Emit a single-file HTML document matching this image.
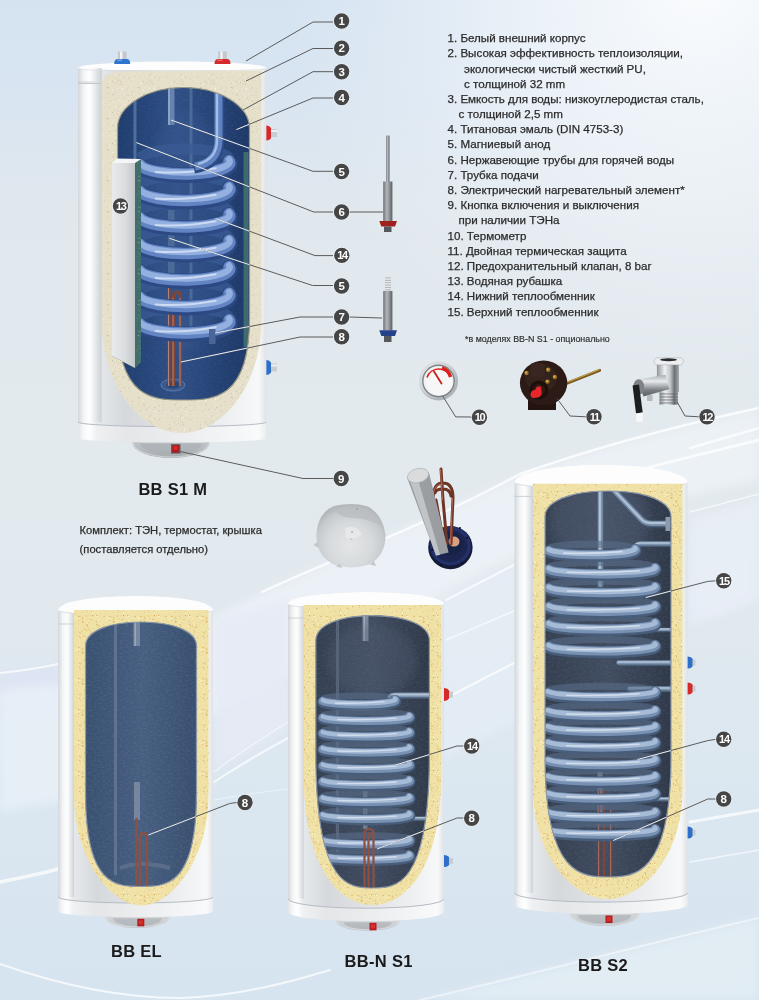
<!DOCTYPE html>
<html><head><meta charset="utf-8"><style>
html,body{margin:0;padding:0;}
body{width:759px;height:1000px;position:relative;overflow:hidden;background:#dbe6f1;font-family:"Liberation Sans", sans-serif;}
.li{position:absolute;font-size:11.6px;line-height:15px;color:#2b2b2b;white-space:nowrap;-webkit-text-stroke:0.25px #2b2b2b;}
.fn{position:absolute;font-size:8.9px;line-height:10px;color:#2b2b2b;white-space:nowrap;-webkit-text-stroke:0.15px #2b2b2b;}
.kt{position:absolute;font-size:11.2px;line-height:14px;color:#2b2b2b;white-space:nowrap;-webkit-text-stroke:0.25px #2b2b2b;}
.lbl{position:absolute;font-size:16.5px;line-height:18px;font-weight:bold;color:#1a1a1a;white-space:nowrap;letter-spacing:0.3px;}
</style></head><body>
<svg width="759" height="1000" viewBox="0 0 759 1000" style="position:absolute;left:0;top:0"><defs>
<linearGradient id="bg" x1="0" y1="0" x2="0" y2="1">
 <stop offset="0" stop-color="#d5e3f1"/>
 <stop offset="0.1" stop-color="#d9e5f1"/>
 <stop offset="0.2" stop-color="#e0e8ee"/>
 <stop offset="0.45" stop-color="#e3eaee"/>
 <stop offset="0.6" stop-color="#e1e9ef"/>
 <stop offset="0.8" stop-color="#dbe7f0"/>
 <stop offset="1" stop-color="#d6e4f0"/>
</linearGradient>
<radialGradient id="tr" gradientUnits="userSpaceOnUse" cx="700" cy="-20" r="420">
 <stop offset="0" stop-color="#ffffff" stop-opacity="0.9"/>
 <stop offset="0.45" stop-color="#f6f9fc" stop-opacity="0.6"/>
 <stop offset="1" stop-color="#eef3f8" stop-opacity="0"/>
</radialGradient>
<linearGradient id="body" x1="0" y1="0" x2="1" y2="0">
 <stop offset="0" stop-color="#d3d7db"/>
 <stop offset="0.03" stop-color="#f2f4f5"/>
 <stop offset="0.06" stop-color="#ffffff"/>
 <stop offset="0.1" stop-color="#e6e9eb"/>
 <stop offset="0.25" stop-color="#d6d9dc"/>
 <stop offset="0.55" stop-color="#e2e4e7"/>
 <stop offset="0.85" stop-color="#f1f2f4"/>
 <stop offset="0.96" stop-color="#f7f8f9"/>
 <stop offset="1" stop-color="#dfe2e5"/>
</linearGradient>
<linearGradient id="blue1" x1="0" y1="0" x2="1" y2="0">
 <stop offset="0" stop-color="#1d3a6b"/>
 <stop offset="0.45" stop-color="#2f4f85"/>
 <stop offset="1" stop-color="#1a3463"/>
</linearGradient>
<linearGradient id="slate" x1="0" y1="0" x2="1" y2="0">
 <stop offset="0" stop-color="#384f6f"/>
 <stop offset="0.5" stop-color="#465e80"/>
 <stop offset="1" stop-color="#364c6c"/>
</linearGradient>
<linearGradient id="dark" x1="0" y1="0" x2="1" y2="0">
 <stop offset="0" stop-color="#333e4f"/>
 <stop offset="0.5" stop-color="#404c60"/>
 <stop offset="1" stop-color="#2d3747"/>
</linearGradient>
<linearGradient id="coil1" x1="0" y1="0" x2="0" y2="1">
 <stop offset="0" stop-color="#5f7fb3"/>
 <stop offset="0.45" stop-color="#b9cbe6"/>
 <stop offset="1" stop-color="#4a6699"/>
</linearGradient>
<linearGradient id="coil2" x1="0" y1="0" x2="0" y2="1">
 <stop offset="0" stop-color="#5c6f88"/>
 <stop offset="0.45" stop-color="#a8b9cf"/>
 <stop offset="1" stop-color="#4d5f78"/>
</linearGradient>
<linearGradient id="rod" x1="0" y1="0" x2="1" y2="0">
 <stop offset="0" stop-color="#6d7278"/>
 <stop offset="0.4" stop-color="#b4b8bc"/>
 <stop offset="1" stop-color="#5d6166"/>
</linearGradient>
<linearGradient id="cap2" x1="0" y1="0" x2="0" y2="1">
 <stop offset="0" stop-color="#dcdfe2"/>
 <stop offset="0.6" stop-color="#ced2d5"/>
 <stop offset="1" stop-color="#b9bec2"/>
</linearGradient>
<linearGradient id="cap" x1="0" y1="0" x2="0" y2="1">
 <stop offset="0" stop-color="#c6cacd"/>
 <stop offset="0.6" stop-color="#b9bdc1"/>
 <stop offset="1" stop-color="#a4a9ae"/>
</linearGradient>
<pattern id="speck" width="31" height="31" patternUnits="userSpaceOnUse"><circle cx="10.0" cy="4.7" r="0.53" fill="#d6a85c"/><circle cx="2.2" cy="16.6" r="0.43" fill="#d6a85c"/><circle cx="1.8" cy="15.7" r="0.31" fill="#d6a85c"/><circle cx="13.4" cy="2.2" r="0.33" fill="#d6a85c"/><circle cx="13.2" cy="25.6" r="0.34" fill="#d6a85c"/><circle cx="6.9" cy="19.5" r="0.63" fill="#d6a85c"/><circle cx="17.9" cy="12.3" r="0.64" fill="#d6a85c"/><circle cx="1.4" cy="26.6" r="0.40" fill="#d6a85c"/><circle cx="4.5" cy="3.7" r="0.41" fill="#d6a85c"/><circle cx="25.3" cy="5.6" r="0.50" fill="#d6a85c"/><circle cx="19.8" cy="11.5" r="0.49" fill="#d6a85c"/><circle cx="1.9" cy="1.8" r="0.37" fill="#d6a85c"/><circle cx="21.1" cy="13.3" r="0.41" fill="#d6a85c"/><circle cx="18.2" cy="14.0" r="0.40" fill="#d6a85c"/><circle cx="24.6" cy="21.7" r="0.39" fill="#d6a85c"/><circle cx="17.8" cy="16.3" r="0.61" fill="#d6a85c"/><circle cx="22.6" cy="8.9" r="0.64" fill="#d6a85c"/><circle cx="3.7" cy="13.0" r="0.56" fill="#d6a85c"/><circle cx="4.7" cy="15.2" r="0.31" fill="#d6a85c"/><circle cx="20.7" cy="23.7" r="0.50" fill="#d6a85c"/><circle cx="27.1" cy="9.7" r="0.54" fill="#d6a85c"/><circle cx="18.4" cy="18.0" r="0.46" fill="#d6a85c"/><circle cx="26.0" cy="29.3" r="0.47" fill="#d6a85c"/><circle cx="20.6" cy="1.9" r="0.55" fill="#d6a85c"/><circle cx="20.1" cy="30.8" r="0.59" fill="#d6a85c"/><circle cx="8.8" cy="12.0" r="0.53" fill="#d6a85c"/><circle cx="0.7" cy="14.3" r="0.36" fill="#d6a85c"/><circle cx="3.6" cy="1.8" r="0.57" fill="#d6a85c"/><circle cx="4.0" cy="7.7" r="0.44" fill="#d6a85c"/><circle cx="27.0" cy="2.5" r="0.46" fill="#d6a85c"/><circle cx="17.0" cy="27.4" r="0.59" fill="#d6a85c"/><circle cx="26.8" cy="8.6" r="0.45" fill="#d6a85c"/><circle cx="11.1" cy="27.4" r="0.64" fill="#d6a85c"/><circle cx="4.7" cy="5.5" r="0.38" fill="#d6a85c"/><circle cx="7.2" cy="15.0" r="0.51" fill="#d6a85c"/><circle cx="8.1" cy="0.1" r="0.45" fill="#d6a85c"/><circle cx="11.4" cy="17.6" r="0.63" fill="#d6a85c"/><circle cx="21.4" cy="16.0" r="0.52" fill="#d6a85c"/><circle cx="21.0" cy="1.7" r="0.61" fill="#d6a85c"/><circle cx="24.2" cy="27.1" r="0.58" fill="#d6a85c"/><circle cx="12.2" cy="12.4" r="0.34" fill="#d6a85c"/><circle cx="19.7" cy="1.9" r="0.32" fill="#d6a85c"/><circle cx="6.5" cy="5.0" r="0.42" fill="#d6a85c"/><circle cx="1.6" cy="0.0" r="0.35" fill="#d6a85c"/><circle cx="3.1" cy="11.3" r="0.31" fill="#d6a85c"/><circle cx="27.1" cy="19.0" r="0.35" fill="#d6a85c"/><circle cx="7.8" cy="10.8" r="0.43" fill="#d6a85c"/><circle cx="3.8" cy="26.3" r="0.65" fill="#d6a85c"/><circle cx="14.4" cy="15.0" r="0.33" fill="#d6a85c"/><circle cx="3.2" cy="10.6" r="0.39" fill="#d6a85c"/><circle cx="25.7" cy="5.0" r="0.31" fill="#d6a85c"/><circle cx="29.5" cy="16.4" r="0.35" fill="#d6a85c"/><circle cx="16.8" cy="0.8" r="0.48" fill="#d6a85c"/><circle cx="30.3" cy="26.8" r="0.54" fill="#d6a85c"/><circle cx="8.1" cy="11.4" r="0.36" fill="#d6a85c"/><circle cx="23.9" cy="16.5" r="0.57" fill="#d6a85c"/><circle cx="10.2" cy="6.9" r="0.58" fill="#d6a85c"/><circle cx="30.5" cy="26.4" r="0.58" fill="#d6a85c"/><circle cx="25.4" cy="22.9" r="0.38" fill="#d6a85c"/><circle cx="16.0" cy="11.0" r="0.31" fill="#d6a85c"/><circle cx="0.9" cy="8.7" r="0.39" fill="#d6a85c"/><circle cx="21.5" cy="29.7" r="0.46" fill="#d6a85c"/><circle cx="29.0" cy="30.6" r="0.63" fill="#d6a85c"/><circle cx="11.3" cy="6.8" r="0.38" fill="#d6a85c"/><circle cx="6.1" cy="6.3" r="0.52" fill="#d6a85c"/><circle cx="27.9" cy="26.1" r="0.47" fill="#d6a85c"/><circle cx="20.2" cy="24.8" r="0.33" fill="#d6a85c"/><circle cx="20.5" cy="28.2" r="0.57" fill="#d6a85c"/><circle cx="23.3" cy="14.8" r="0.36" fill="#d6a85c"/><circle cx="24.5" cy="10.3" r="0.58" fill="#d6a85c"/><circle cx="30.1" cy="12.3" r="0.44" fill="#d6a85c"/><circle cx="29.4" cy="22.5" r="0.36" fill="#d6a85c"/><circle cx="3.9" cy="4.7" r="0.62" fill="#d6a85c"/><circle cx="25.0" cy="4.5" r="0.59" fill="#d6a85c"/><circle cx="30.4" cy="20.4" r="0.42" fill="#d6a85c"/><circle cx="17.0" cy="4.1" r="0.30" fill="#d6a85c"/><circle cx="30.1" cy="20.1" r="0.48" fill="#d6a85c"/><circle cx="28.9" cy="13.4" r="0.61" fill="#d6a85c"/><circle cx="25.6" cy="6.5" r="0.39" fill="#d6a85c"/><circle cx="9.1" cy="7.5" r="0.51" fill="#d6a85c"/><circle cx="8.0" cy="13.0" r="0.35" fill="#d6a85c"/><circle cx="28.2" cy="11.0" r="0.46" fill="#d6a85c"/><circle cx="18.1" cy="28.0" r="0.45" fill="#d6a85c"/><circle cx="28.4" cy="15.6" r="0.49" fill="#d6a85c"/><circle cx="16.2" cy="0.6" r="0.45" fill="#d6a85c"/><circle cx="5.7" cy="0.1" r="0.54" fill="#fbf6dc"/><circle cx="5.3" cy="14.7" r="0.52" fill="#fbf6dc"/><circle cx="17.3" cy="10.1" r="0.46" fill="#fbf6dc"/><circle cx="17.2" cy="24.3" r="0.33" fill="#fbf6dc"/><circle cx="17.4" cy="7.7" r="0.38" fill="#fbf6dc"/><circle cx="23.9" cy="15.7" r="0.47" fill="#fbf6dc"/><circle cx="23.6" cy="28.3" r="0.43" fill="#fbf6dc"/><circle cx="19.0" cy="15.7" r="0.45" fill="#fbf6dc"/><circle cx="21.5" cy="14.0" r="0.46" fill="#fbf6dc"/><circle cx="14.8" cy="29.2" r="0.51" fill="#fbf6dc"/><circle cx="27.2" cy="29.2" r="0.38" fill="#fbf6dc"/><circle cx="17.3" cy="29.2" r="0.55" fill="#fbf6dc"/><circle cx="4.3" cy="3.8" r="0.43" fill="#fbf6dc"/><circle cx="2.2" cy="7.5" r="0.32" fill="#fbf6dc"/><circle cx="20.8" cy="24.3" r="0.57" fill="#fbf6dc"/><circle cx="4.8" cy="22.2" r="0.50" fill="#fbf6dc"/><circle cx="4.4" cy="27.4" r="0.59" fill="#fbf6dc"/><circle cx="6.8" cy="29.5" r="0.42" fill="#fbf6dc"/><circle cx="15.1" cy="30.7" r="0.55" fill="#fbf6dc"/><circle cx="5.0" cy="13.4" r="0.45" fill="#fbf6dc"/><circle cx="10.5" cy="6.1" r="0.40" fill="#fbf6dc"/><circle cx="22.4" cy="0.6" r="0.47" fill="#fbf6dc"/><circle cx="13.7" cy="0.6" r="0.40" fill="#fbf6dc"/><circle cx="19.3" cy="15.9" r="0.32" fill="#fbf6dc"/><circle cx="30.5" cy="24.4" r="0.59" fill="#fbf6dc"/><circle cx="3.2" cy="8.2" r="0.31" fill="#fbf6dc"/><circle cx="24.1" cy="8.4" r="0.34" fill="#fbf6dc"/><circle cx="13.1" cy="28.3" r="0.55" fill="#fbf6dc"/><circle cx="8.0" cy="4.6" r="0.58" fill="#fbf6dc"/><circle cx="17.7" cy="21.7" r="0.33" fill="#fbf6dc"/><circle cx="1.8" cy="21.3" r="0.43" fill="#fbf6dc"/><circle cx="2.2" cy="29.1" r="0.49" fill="#fbf6dc"/><circle cx="24.9" cy="2.6" r="0.56" fill="#fbf6dc"/><circle cx="2.1" cy="26.7" r="0.44" fill="#fbf6dc"/><circle cx="10.5" cy="17.1" r="0.58" fill="#fbf6dc"/><circle cx="8.3" cy="4.0" r="0.46" fill="#fbf6dc"/><circle cx="7.4" cy="3.4" r="0.35" fill="#fbf6dc"/><circle cx="1.6" cy="6.3" r="0.39" fill="#fbf6dc"/><circle cx="9.5" cy="23.5" r="0.39" fill="#fbf6dc"/><circle cx="15.5" cy="5.5" r="0.40" fill="#fbf6dc"/></pattern><pattern id="speck1" width="31" height="31" patternUnits="userSpaceOnUse"><circle cx="0.6" cy="7.8" r="0.31" fill="#c8c0a5"/><circle cx="22.7" cy="17.1" r="0.37" fill="#c8c0a5"/><circle cx="14.7" cy="29.0" r="0.34" fill="#c8c0a5"/><circle cx="25.4" cy="13.4" r="0.47" fill="#c8c0a5"/><circle cx="25.9" cy="12.2" r="0.48" fill="#c8c0a5"/><circle cx="21.3" cy="30.5" r="0.42" fill="#c8c0a5"/><circle cx="25.8" cy="21.9" r="0.52" fill="#c8c0a5"/><circle cx="12.5" cy="10.8" r="0.32" fill="#c8c0a5"/><circle cx="4.0" cy="2.2" r="0.56" fill="#c8c0a5"/><circle cx="7.9" cy="5.1" r="0.33" fill="#c8c0a5"/><circle cx="26.1" cy="27.0" r="0.53" fill="#c8c0a5"/><circle cx="8.7" cy="7.5" r="0.40" fill="#c8c0a5"/><circle cx="14.2" cy="4.9" r="0.46" fill="#c8c0a5"/><circle cx="8.2" cy="29.8" r="0.64" fill="#c8c0a5"/><circle cx="17.0" cy="7.6" r="0.64" fill="#c8c0a5"/><circle cx="9.6" cy="11.1" r="0.30" fill="#c8c0a5"/><circle cx="11.8" cy="14.7" r="0.48" fill="#c8c0a5"/><circle cx="6.2" cy="15.6" r="0.30" fill="#c8c0a5"/><circle cx="8.2" cy="2.8" r="0.44" fill="#c8c0a5"/><circle cx="1.3" cy="0.7" r="0.41" fill="#c8c0a5"/><circle cx="7.2" cy="18.2" r="0.49" fill="#c8c0a5"/><circle cx="23.3" cy="20.4" r="0.55" fill="#c8c0a5"/><circle cx="27.3" cy="12.1" r="0.41" fill="#c8c0a5"/><circle cx="30.5" cy="4.6" r="0.55" fill="#c8c0a5"/><circle cx="19.9" cy="1.4" r="0.59" fill="#c8c0a5"/><circle cx="27.7" cy="19.4" r="0.56" fill="#c8c0a5"/><circle cx="25.2" cy="4.3" r="0.48" fill="#c8c0a5"/><circle cx="15.6" cy="25.9" r="0.58" fill="#c8c0a5"/><circle cx="25.6" cy="18.1" r="0.61" fill="#c8c0a5"/><circle cx="21.2" cy="21.5" r="0.38" fill="#c8c0a5"/><circle cx="1.0" cy="4.1" r="0.43" fill="#c8c0a5"/><circle cx="3.3" cy="25.9" r="0.50" fill="#c8c0a5"/><circle cx="19.5" cy="19.4" r="0.54" fill="#c8c0a5"/><circle cx="15.2" cy="0.1" r="0.58" fill="#c8c0a5"/><circle cx="23.2" cy="15.6" r="0.49" fill="#c8c0a5"/><circle cx="20.4" cy="2.0" r="0.56" fill="#c8c0a5"/><circle cx="7.8" cy="2.3" r="0.39" fill="#c8c0a5"/><circle cx="22.6" cy="6.4" r="0.56" fill="#c8c0a5"/><circle cx="30.2" cy="15.3" r="0.43" fill="#c8c0a5"/><circle cx="14.8" cy="21.2" r="0.57" fill="#c8c0a5"/><circle cx="19.1" cy="19.9" r="0.33" fill="#c8c0a5"/><circle cx="4.6" cy="7.9" r="0.56" fill="#c8c0a5"/><circle cx="9.4" cy="17.6" r="0.30" fill="#c8c0a5"/><circle cx="1.9" cy="8.3" r="0.54" fill="#c8c0a5"/><circle cx="21.5" cy="20.9" r="0.40" fill="#c8c0a5"/><circle cx="16.0" cy="14.4" r="0.46" fill="#c8c0a5"/><circle cx="3.7" cy="27.7" r="0.37" fill="#c8c0a5"/><circle cx="30.3" cy="29.0" r="0.31" fill="#c8c0a5"/><circle cx="14.2" cy="25.4" r="0.64" fill="#c8c0a5"/><circle cx="13.9" cy="8.3" r="0.37" fill="#c8c0a5"/><circle cx="29.3" cy="6.5" r="0.50" fill="#c8c0a5"/><circle cx="4.4" cy="16.2" r="0.63" fill="#c8c0a5"/><circle cx="4.1" cy="25.4" r="0.48" fill="#c8c0a5"/><circle cx="27.5" cy="21.8" r="0.38" fill="#c8c0a5"/><circle cx="27.8" cy="15.1" r="0.31" fill="#c8c0a5"/><circle cx="0.1" cy="15.2" r="0.46" fill="#c8c0a5"/><circle cx="9.4" cy="4.4" r="0.42" fill="#c8c0a5"/><circle cx="9.8" cy="26.0" r="0.30" fill="#c8c0a5"/><circle cx="23.3" cy="26.0" r="0.34" fill="#c8c0a5"/><circle cx="28.7" cy="22.1" r="0.62" fill="#c8c0a5"/><circle cx="9.0" cy="11.5" r="0.42" fill="#f7f4ea"/><circle cx="31.0" cy="18.3" r="0.41" fill="#f7f4ea"/><circle cx="13.3" cy="8.5" r="0.31" fill="#f7f4ea"/><circle cx="3.2" cy="25.9" r="0.39" fill="#f7f4ea"/><circle cx="29.0" cy="7.7" r="0.38" fill="#f7f4ea"/><circle cx="15.8" cy="5.9" r="0.41" fill="#f7f4ea"/><circle cx="29.6" cy="27.4" r="0.54" fill="#f7f4ea"/><circle cx="19.6" cy="28.3" r="0.58" fill="#f7f4ea"/><circle cx="17.0" cy="22.3" r="0.31" fill="#f7f4ea"/><circle cx="22.7" cy="14.0" r="0.53" fill="#f7f4ea"/><circle cx="20.0" cy="8.9" r="0.31" fill="#f7f4ea"/><circle cx="28.7" cy="3.9" r="0.44" fill="#f7f4ea"/><circle cx="10.7" cy="9.2" r="0.52" fill="#f7f4ea"/><circle cx="30.3" cy="8.1" r="0.50" fill="#f7f4ea"/><circle cx="9.3" cy="17.3" r="0.42" fill="#f7f4ea"/><circle cx="5.2" cy="5.0" r="0.36" fill="#f7f4ea"/><circle cx="28.1" cy="15.4" r="0.37" fill="#f7f4ea"/><circle cx="28.1" cy="30.9" r="0.43" fill="#f7f4ea"/><circle cx="4.3" cy="6.0" r="0.33" fill="#f7f4ea"/><circle cx="10.6" cy="2.8" r="0.37" fill="#f7f4ea"/><circle cx="8.0" cy="17.7" r="0.57" fill="#f7f4ea"/><circle cx="23.2" cy="12.8" r="0.42" fill="#f7f4ea"/><circle cx="16.2" cy="11.7" r="0.40" fill="#f7f4ea"/><circle cx="1.9" cy="8.6" r="0.59" fill="#f7f4ea"/><circle cx="3.9" cy="15.6" r="0.49" fill="#f7f4ea"/><circle cx="26.7" cy="6.7" r="0.38" fill="#f7f4ea"/><circle cx="7.7" cy="12.4" r="0.43" fill="#f7f4ea"/><circle cx="29.6" cy="26.3" r="0.56" fill="#f7f4ea"/><circle cx="0.7" cy="1.0" r="0.51" fill="#f7f4ea"/><circle cx="27.8" cy="14.7" r="0.48" fill="#f7f4ea"/><circle cx="0.0" cy="12.1" r="0.58" fill="#f7f4ea"/><circle cx="25.6" cy="26.5" r="0.59" fill="#f7f4ea"/><circle cx="7.7" cy="3.4" r="0.35" fill="#f7f4ea"/><circle cx="16.2" cy="21.1" r="0.58" fill="#f7f4ea"/><circle cx="22.4" cy="20.1" r="0.53" fill="#f7f4ea"/></pattern>
<linearGradient id="lstrip" x1="0" y1="0" x2="1" y2="0"><stop offset="0" stop-color="#ffffff" stop-opacity="0"/><stop offset="1" stop-color="#cbd0d5"/></linearGradient>
<filter id="tex" x="0" y="0" width="100%" height="100%" filterUnits="userSpaceOnUse">
 <feTurbulence type="fractalNoise" baseFrequency="0.35 0.6" numOctaves="2" seed="5"/>
 <feColorMatrix type="matrix" values="0 0 0 0 0.85  0 0 0 0 0.9  0 0 0 0 1  0.5 0 0 0 -0.2"/>
</filter>
<filter id="blur4"><feGaussianBlur stdDeviation="4"/></filter>
<filter id="blur1"><feGaussianBlur stdDeviation="0.7"/></filter>
<filter id="blur2"><feGaussianBlur stdDeviation="1.5"/></filter>
</defs>
<rect width="759" height="1000" fill="url(#bg)"/>
<rect width="759" height="1000" fill="url(#tr)"/>
<g filter="url(#blur4)"><path d="M150,650 C260,590 380,540 520,476 C600,448 680,427 759,410 L759,480 C640,505 560,530 450,590 C340,650 250,700 150,740 Z" fill="#eef3f8" opacity="0.8"/><path d="M0,672 C20,670 40,668 60,664 L60,714 C40,712 20,712 0,714 Z" fill="#dde3f3" opacity="0.9"/><path d="M215,620 L288,600 L288,730 L215,770 Z" fill="#e6eaf5" opacity="0.9"/><path d="M0,690 C30,685 60,680 70,690 L70,800 C40,805 20,808 0,812 Z" fill="#e9f0f8" opacity="0.8"/><path d="M690,520 C720,512 740,505 759,500 L759,600 C735,610 710,620 690,625 Z" fill="#e9f0f8" opacity="0.7"/><path d="M440,600 L520,560 L520,720 L440,760 Z" fill="#e6eef7" opacity="0.7"/><path d="M420,1000 C530,975 640,945 759,918 L759,1000 Z" fill="#e4edf4" opacity="0.8"/></g>
<g fill="none" stroke="#ffffff" stroke-linecap="round" filter="url(#blur1)" opacity="0.8"><path d="M262,592 C330,560 420,528 520,474 C600,446 680,425 759,408" stroke-width="2.4" opacity="0.95"/><path d="M600,480 C660,464 710,452 759,440" stroke-width="3" opacity="0.85"/><path d="M0,673 C20,671 40,668 58,664" stroke-width="2" opacity="0.9"/><path d="M0,882 C20,878 40,874 58,869" stroke-width="3.5" opacity="0.9"/><path d="M446,600 L514,565" stroke-width="2" opacity="0.9"/><path d="M214,782 C240,765 262,752 288,738" stroke-width="2" opacity="0.9"/><path d="M214,772 C240,752 262,738 288,722" stroke-width="1.2" opacity="0.7"/><path d="M214,800 C240,795 262,792 288,789" stroke-width="1" opacity="0.6"/><path d="M446,640 L514,611" stroke-width="1.6" opacity="0.8"/><path d="M446,698 L514,663" stroke-width="2.2" opacity="0.9"/><path d="M690,448 L759,428" stroke-width="2.5" opacity="0.9"/><path d="M690,512 L759,494" stroke-width="1.5" opacity="0.8"/><path d="M690,822 L759,810" stroke-width="3" opacity="0.9"/><path d="M690,862 L759,850" stroke-width="1.5" opacity="0.8"/><path d="M0,964 C60,985 120,998 180,998 C240,996 290,982 330,970" stroke-width="2.2" opacity="0.9"/><path d="M420,1000 C530,975 640,945 759,918" stroke-width="2" opacity="0.6"/></g>
<path d="M132.3,434.6 L209.7,434.6 L209.7,442.6 A38.69999999999999,15.399999999999977 0 0 1 132.3,442.6 Z" fill="url(#cap)"/>
<path d="M140.3,443.6 A30.69999999999999,10.8 0 0 0 201.7,443.6" fill="#a9aeb3" opacity="0.6"/>
<path d="M133.3,442.6 A37.69999999999999,14.399999999999977 0 0 0 208.7,442.6" fill="none" stroke="#dfe2e5" stroke-width="1" opacity="0.7"/>
<rect x="171" y="444.1" width="9.5" height="9.5" fill="#5d6166"/><rect x="172.2" y="445.1" width="7" height="7.5" fill="#b3161c"/><rect x="173.5" y="446.1" width="4" height="4" fill="#d6282a"/>
<path d="M78,68 A94.19999999999999,6.5 0 0 1 266.4,68 L266.4,438 A94.19999999999999,4.600000000000023 0 0 1 78,438 Z" fill="url(#body)"/>
<path d="M78,422 A94.19999999999999,4.600000000000023 0 0 0 266.4,422 L266.4,438 A94.19999999999999,4.600000000000023 0 0 1 78,438 Z" fill="#ffffff" opacity="0.35"/>
<path d="M78,422 A94.19999999999999,4.600000000000023 0 0 0 266.4,422" fill="none" stroke="#b5bcc4" stroke-width="1"/>
<rect x="88.6" y="68" width="12.9" height="354" fill="url(#lstrip)" opacity="0.9"/>
<path d="M78,82 L101.5,82" stroke="#c3c8cd" stroke-width="0.8"/>
<path d="M78,68 A94.19999999999999,6.5 0 0 1 266.4,68 A94.19999999999999,2.3 0 0 1 78,68 Z" fill="#fdfdfe"/>
<path d="M79,69 A94.19999999999999,2.3 0 0 0 265.4,69" fill="none" stroke="#d9dde1" stroke-width="1.2" opacity="0.7"/>
<path d="M101.5,84 Q102.5,72 125,71.5 L261.5,70.5 L261.5,318 C261.5,387.0 221.5,433 181.5,433 C141.5,433 101.5,387.0 101.5,318 Z" fill="#e6e0cb"/>
<path d="M101.5,84 Q102.5,72 125,71.5 L261.5,70.5 L261.5,318 C261.5,387.0 221.5,433 181.5,433 C141.5,433 101.5,387.0 101.5,318 Z" fill="url(#speck1)"/>
<clipPath id="clipT1"><path d="M117.5,128 C117.5,105.7 147.2,87.5 183.5,87.5 C219.8,87.5 249.5,105.7 249.5,128 L249.5,318 C249.5,400.0 213.2,400 183.5,400 C153.8,400 117.5,400.0 117.5,318 Z"/></clipPath>
<path d="M117.5,128 C117.5,105.7 147.2,87.5 183.5,87.5 C219.8,87.5 249.5,105.7 249.5,128 L249.5,318 C249.5,400.0 213.2,400 183.5,400 C153.8,400 117.5,400.0 117.5,318 Z" fill="url(#blue1)"/>
<g clip-path="url(#clipT1)"><rect x="110" y="80" width="150" height="330" fill="url(#blue1)"/>
<rect x="110" y="80" width="150" height="330" filter="url(#tex)" opacity="0.22"/>
<ellipse cx="185" cy="230" rx="45" ry="120" fill="#3a5c94" opacity="0.35" filter="url(#blur4)"/>
<rect x="133.5" y="85" width="3" height="80" fill="#4f6f9f"/>
<rect x="189.5" y="85" width="3" height="250" fill="#4a6a9a"/>
<rect x="168" y="85" width="6.5" height="40" fill="#6683b0"/><rect x="168" y="85" width="2" height="40" fill="#8aa3c8"/>
<rect x="168" y="210" width="6.5" height="76" fill="#4c6a98"/>
<ellipse cx="173" cy="385" rx="12" ry="6" fill="#3a5a8e" stroke="#5a7ab0"/>
<ellipse cx="173" cy="385" rx="7" ry="3.5" fill="#2a4677"/>
<path d="M169,386 L169,284 M180.5,386 L180.5,298 Q180.5,292 177,292 Q173.5,292 173.5,298 L173.5,386" stroke="#7e4538" stroke-width="3.2" fill="none"/>
<path d="M168.5,386 L168.5,284 M180,386 L180,298 M173,386 L173,298" stroke="#b88273" stroke-width="1" fill="none"/>
<path d="M229,162.0 A44.5,11 0 0 0 140,158.0" fill="none" stroke="#3a5b96" stroke-width="10.8" opacity="0.7"/>
<path d="M229,188.5 A44.5,11 0 0 0 140,184.5" fill="none" stroke="#3a5b96" stroke-width="10.8" opacity="0.7"/>
<path d="M229,215.0 A44.5,11 0 0 0 140,211.0" fill="none" stroke="#3a5b96" stroke-width="10.8" opacity="0.7"/>
<path d="M229,241.5 A44.5,11 0 0 0 140,237.5" fill="none" stroke="#3a5b96" stroke-width="10.8" opacity="0.7"/>
<path d="M229,268.0 A44.5,11 0 0 0 140,264.0" fill="none" stroke="#3a5b96" stroke-width="10.8" opacity="0.7"/>
<path d="M229,294.5 A44.5,11 0 0 0 140,290.5" fill="none" stroke="#3a5b96" stroke-width="10.8" opacity="0.7"/>
<path d="M229,321.0 A44.5,11 0 0 0 140,317.0" fill="none" stroke="#3a5b96" stroke-width="10.8" opacity="0.7"/>
<path d="M140,166.0 A44.5,11 0 0 0 229,162.0" fill="none" stroke="#2c4983" stroke-width="15.5" stroke-linecap="round"/>
<path d="M140,164.8 A44.5,11 0 0 0 229,160.8" fill="none" stroke="#6284c2" stroke-width="11.5" stroke-linecap="round"/>
<path d="M140,163.4 A44.5,11 0 0 0 229,159.4" fill="none" stroke="#93b0e0" stroke-width="6.2" stroke-linecap="round"/>
<path d="M155.6,171.9 Q184.5,174.1 215.7,168.3" fill="none" stroke="#dbe5f6" stroke-width="2.0" stroke-linecap="round" opacity="0.8"/>
<path d="M140,192.5 A44.5,11 0 0 0 229,188.5" fill="none" stroke="#2c4983" stroke-width="15.5" stroke-linecap="round"/>
<path d="M140,191.3 A44.5,11 0 0 0 229,187.3" fill="none" stroke="#6284c2" stroke-width="11.5" stroke-linecap="round"/>
<path d="M140,189.9 A44.5,11 0 0 0 229,185.9" fill="none" stroke="#93b0e0" stroke-width="6.2" stroke-linecap="round"/>
<path d="M155.6,198.4 Q184.5,200.6 215.7,194.8" fill="none" stroke="#dbe5f6" stroke-width="2.0" stroke-linecap="round" opacity="0.8"/>
<path d="M140,219.0 A44.5,11 0 0 0 229,215.0" fill="none" stroke="#2c4983" stroke-width="15.5" stroke-linecap="round"/>
<path d="M140,217.8 A44.5,11 0 0 0 229,213.8" fill="none" stroke="#6284c2" stroke-width="11.5" stroke-linecap="round"/>
<path d="M140,216.4 A44.5,11 0 0 0 229,212.4" fill="none" stroke="#93b0e0" stroke-width="6.2" stroke-linecap="round"/>
<path d="M155.6,224.9 Q184.5,227.1 215.7,221.3" fill="none" stroke="#dbe5f6" stroke-width="2.0" stroke-linecap="round" opacity="0.8"/>
<path d="M140,245.5 A44.5,11 0 0 0 229,241.5" fill="none" stroke="#2c4983" stroke-width="15.5" stroke-linecap="round"/>
<path d="M140,244.3 A44.5,11 0 0 0 229,240.3" fill="none" stroke="#6284c2" stroke-width="11.5" stroke-linecap="round"/>
<path d="M140,242.9 A44.5,11 0 0 0 229,238.9" fill="none" stroke="#93b0e0" stroke-width="6.2" stroke-linecap="round"/>
<path d="M155.6,251.4 Q184.5,253.6 215.7,247.8" fill="none" stroke="#dbe5f6" stroke-width="2.0" stroke-linecap="round" opacity="0.8"/>
<path d="M140,272.0 A44.5,11 0 0 0 229,268.0" fill="none" stroke="#2c4983" stroke-width="15.5" stroke-linecap="round"/>
<path d="M140,270.8 A44.5,11 0 0 0 229,266.8" fill="none" stroke="#6284c2" stroke-width="11.5" stroke-linecap="round"/>
<path d="M140,269.4 A44.5,11 0 0 0 229,265.4" fill="none" stroke="#93b0e0" stroke-width="6.2" stroke-linecap="round"/>
<path d="M155.6,277.9 Q184.5,280.1 215.7,274.3" fill="none" stroke="#dbe5f6" stroke-width="2.0" stroke-linecap="round" opacity="0.8"/>
<path d="M140,298.5 A44.5,11 0 0 0 229,294.5" fill="none" stroke="#2c4983" stroke-width="15.5" stroke-linecap="round"/>
<path d="M140,297.3 A44.5,11 0 0 0 229,293.3" fill="none" stroke="#6284c2" stroke-width="11.5" stroke-linecap="round"/>
<path d="M140,295.9 A44.5,11 0 0 0 229,291.9" fill="none" stroke="#93b0e0" stroke-width="6.2" stroke-linecap="round"/>
<path d="M155.6,304.4 Q184.5,306.6 215.7,300.8" fill="none" stroke="#dbe5f6" stroke-width="2.0" stroke-linecap="round" opacity="0.8"/>
<path d="M140,325.0 A44.5,11 0 0 0 229,321.0" fill="none" stroke="#2c4983" stroke-width="15.5" stroke-linecap="round"/>
<path d="M140,323.8 A44.5,11 0 0 0 229,319.8" fill="none" stroke="#6284c2" stroke-width="11.5" stroke-linecap="round"/>
<path d="M140,322.4 A44.5,11 0 0 0 229,318.4" fill="none" stroke="#93b0e0" stroke-width="6.2" stroke-linecap="round"/>
<path d="M155.6,330.9 Q184.5,333.1 215.7,327.3" fill="none" stroke="#dbe5f6" stroke-width="2.0" stroke-linecap="round" opacity="0.8"/>
<path d="M219,84 L219,140 Q219,164 194,168" fill="none" stroke="#2c4a84" stroke-width="11"/>
<path d="M218.5,84 L218.5,140 Q218.5,162 195,166.5" fill="none" stroke="#5f82c0" stroke-width="8"/>
<path d="M217,84 L217,140 Q217,159 198,164" fill="none" stroke="#a3bce6" stroke-width="2.5"/>
<rect x="209" y="329" width="6.5" height="15" fill="#4a6694"/>
<rect x="243.5" y="152" width="5" height="195" fill="#3d6b70"/></g>
<path d="M117.5,128 C117.5,105.7 147.2,87.5 183.5,87.5 C219.8,87.5 249.5,105.7 249.5,128 L249.5,318 C249.5,400.0 213.2,400 183.5,400 C153.8,400 117.5,400.0 117.5,318 Z" fill="none" stroke="#9c9c86" stroke-width="1.2"/>
<path d="M78,83.5 L101.5,83.5" stroke="#c3c8cd" stroke-width="1"/>
<rect x="90" y="68" width="11.5" height="15" fill="url(#lstrip)"/><rect x="90" y="84" width="11.5" height="338" fill="url(#lstrip)" opacity="0.8"/>
<linearGradient id="jk" x1="0" y1="0" x2="1" y2="0"><stop offset="0" stop-color="#e9eaeb"/><stop offset="0.6" stop-color="#d9dbdd"/><stop offset="1" stop-color="#c4c7ca"/></linearGradient>
<path d="M112,163 L135,163 L141,159 L141,362 L135,368 L112,356 Z" fill="#3f6e6c"/>
<path d="M112,163 L135,163 L135,368 L112,356 Z" fill="url(#jk)"/>
<path d="M112,163 L117,158.5 L141,159 L135,163 Z" fill="#f4f5f6"/>
<path d="M135.5,164 L140.5,160.5 L140.5,361 L135.5,366 Z" fill="url(#speck1)" opacity="0.5"/>
<rect x="117.9" y="51.5" width="8.6" height="8.5" fill="#c3c7cb"/><rect x="119.9" y="51.5" width="2.5" height="8.5" fill="#f2f3f4"/>
<path d="M114.2,64 Q114.2,59 117.7,59 L126.7,59 Q130.2,59 130.2,64 Z" fill="#2f74cf"/><rect x="117.2" y="59.5" width="5" height="1.5" fill="#6aa3e6"/>
<rect x="218.2" y="51.5" width="8.6" height="8.5" fill="#c3c7cb"/><rect x="220.2" y="51.5" width="2.5" height="8.5" fill="#f2f3f4"/>
<path d="M214.5,64 Q214.5,59 218.0,59 L227.0,59 Q230.5,59 230.5,64 Z" fill="#d42a2e"/><rect x="217.5" y="59.5" width="5" height="1.5" fill="#f0605c"/>
<path d="M266.4,125.5 Q272,125.5 272,133 Q272,140.5 266.4,140.5 Z" fill="#d42a2a"/><rect x="271" y="129" width="6" height="8" fill="#c8cdd2"/><rect x="271" y="130" width="6" height="2" fill="#eef0f2"/>
<path d="M266.4,360 Q272,360 272,367.5 Q272,375 266.4,375 Z" fill="#2f6fc9"/><rect x="271" y="363.5" width="6" height="8" fill="#c8cdd2"/><rect x="271" y="364.5" width="6" height="2" fill="#eef0f2"/>
<path d="M105,909.3 L170,909.3 L170,917.3 A32.5,10.700000000000045 0 0 1 105,917.3 Z" fill="url(#cap2)"/>
<path d="M113,918.3 A24.5,7.5 0 0 0 162,918.3" fill="#a9aeb3" opacity="0.6"/>
<path d="M106,917.3 A31.5,9.700000000000045 0 0 0 169,917.3" fill="none" stroke="#dfe2e5" stroke-width="1" opacity="0.7"/>
<rect x="137.3" y="918.8" width="7" height="7.5" fill="#b81d20"/><rect x="138.8" y="920.3" width="4" height="4" fill="#d8302e"/>
<path d="M58,610 A77.5,14 0 0 1 213,610 L213,911.3 A77.5,6.0 0 0 1 58,911.3 Z" fill="url(#body)"/>
<path d="M58,897 A77.5,6.0 0 0 0 213,897 L213,911.3 A77.5,6.0 0 0 1 58,911.3 Z" fill="#ffffff" opacity="0.35"/>
<path d="M58,897 A77.5,6.0 0 0 0 213,897" fill="none" stroke="#b5bcc4" stroke-width="1"/>
<rect x="65.2" y="610" width="8.8" height="287" fill="url(#lstrip)" opacity="0.9"/>
<path d="M58,624 L74,624" stroke="#c3c8cd" stroke-width="0.8"/>
<path d="M58,610 A77.5,14 0 0 1 213,610 A77.5,4.9 0 0 1 58,610 Z" fill="#fdfdfe"/>
<path d="M59,611 A77.5,4.9 0 0 0 212,611" fill="none" stroke="#d9dde1" stroke-width="1.2" opacity="0.7"/>
<path d="M74,610 L208.5,610 L208.5,795 C208.5,859.1 171.5,905.5 141.25,905.5 C111.0,905.5 74,859.1 74,795 Z" fill="#f0e2a6"/>
<path d="M74,610 L208.5,610 L208.5,795 C208.5,859.1 171.5,905.5 141.25,905.5 C111.0,905.5 74,859.1 74,795 Z" fill="url(#speck)"/>
<clipPath id="clipEL"><path d="M85.5,646 C85.5,631.6 107.7,622 141.0,622 C174.3,622 196.5,631.6 196.5,646 L196.5,792.5 C196.5,886.5 166.0,886.5 141.0,886.5 C116.0,886.5 85.5,886.5 85.5,792.5 Z"/></clipPath>
<path d="M85.5,646 C85.5,631.6 107.7,622 141.0,622 C174.3,622 196.5,631.6 196.5,646 L196.5,792.5 C196.5,886.5 166.0,886.5 141.0,886.5 C116.0,886.5 85.5,886.5 85.5,792.5 Z" fill="url(#slate)"/>
<g clip-path="url(#clipEL)"><rect x="80" y="615" width="125" height="280" fill="url(#slate)"/>
<rect x="80" y="615" width="125" height="280" filter="url(#tex)" opacity="0.35"/>
<rect x="114" y="615" width="3" height="260" fill="#5f7391"/>
<rect x="133.5" y="620" width="6.5" height="26" fill="#76879f"/><rect x="134.5" y="620" width="1.5" height="26" fill="#9aa8bb"/>
<rect x="134" y="782" width="6" height="38" fill="#75869e"/>
<path d="M120,868 Q141,860 170,868" stroke="#5b6d88" stroke-width="4" fill="none"/>
<path d="M136.5,890 L136.5,818 M147,890 L147,839 Q147,833 143,833 Q140,833 140,839 L140,890" stroke="#8e5042" stroke-width="2.4" fill="none"/></g>
<path d="M85.5,646 C85.5,631.6 107.7,622 141.0,622 C174.3,622 196.5,631.6 196.5,646 L196.5,792.5 C196.5,886.5 166.0,886.5 141.0,886.5 C116.0,886.5 85.5,886.5 85.5,792.5 Z" fill="none" stroke="#8d99a8" stroke-width="1.2"/>
<path d="M335.7,913.3 L399.8,913.3 L399.8,921.3 A32.05000000000001,9.400000000000091 0 0 1 335.7,921.3 Z" fill="url(#cap2)"/>
<path d="M343.7,922.3 A24.05000000000001,6.6 0 0 0 391.8,922.3" fill="#a9aeb3" opacity="0.6"/>
<path d="M336.7,921.3 A31.05000000000001,8.400000000000091 0 0 0 398.8,921.3" fill="none" stroke="#dfe2e5" stroke-width="1" opacity="0.7"/>
<rect x="369.5" y="922.8" width="7" height="7.5" fill="#b81d20"/><rect x="371" y="924.3" width="4" height="4" fill="#d8302e"/>
<path d="M288,604 A78.0,12 0 0 1 444,604 L444,911.8 A78.0,9.5 0 0 1 288,911.8 Z" fill="url(#body)"/>
<path d="M288,898.7 A78.0,9.5 0 0 0 444,898.7 L444,911.8 A78.0,9.5 0 0 1 288,911.8 Z" fill="#ffffff" opacity="0.35"/>
<path d="M288,898.7 A78.0,9.5 0 0 0 444,898.7" fill="none" stroke="#b5bcc4" stroke-width="1"/>
<rect x="295.1" y="604" width="8.6" height="294.70000000000005" fill="url(#lstrip)" opacity="0.9"/>
<path d="M288,618 L303.7,618" stroke="#c3c8cd" stroke-width="0.8"/>
<path d="M288,604 A78.0,12 0 0 1 444,604 A78.0,4.2 0 0 1 288,604 Z" fill="#fdfdfe"/>
<path d="M289,605 A78.0,4.2 0 0 0 443,605" fill="none" stroke="#d9dde1" stroke-width="1.2" opacity="0.7"/>
<path d="M303.7,605 L441.3,605 L441.3,773 C441.3,872.0 403.5,905 372.5,905 C341.5,905 303.7,872.0 303.7,773 Z" fill="#f0e2a6"/>
<path d="M303.7,605 L441.3,605 L441.3,773 C441.3,872.0 403.5,905 372.5,905 C341.5,905 303.7,872.0 303.7,773 Z" fill="url(#speck)"/>
<clipPath id="clipN"><path d="M315.8,640.6 C315.8,625.6 338.5,615.6 372.6,615.6 C406.7,615.6 429.4,625.6 429.4,640.6 L429.4,754 C429.4,888.0 395.3,888 372.6,888 C349.9,888 315.8,888.0 315.8,754 Z"/></clipPath>
<path d="M315.8,640.6 C315.8,625.6 338.5,615.6 372.6,615.6 C406.7,615.6 429.4,625.6 429.4,640.6 L429.4,754 C429.4,888.0 395.3,888 372.6,888 C349.9,888 315.8,888.0 315.8,754 Z" fill="url(#dark)"/>
<g clip-path="url(#clipN)"><rect x="310" y="610" width="125" height="285" fill="url(#dark)"/>
<rect x="310" y="610" width="125" height="285" filter="url(#tex)" opacity="0.3"/>
<rect x="336" y="612" width="3" height="240" fill="#56647a"/>
<rect x="362.5" y="614" width="6" height="27" fill="#7f8a9c"/><rect x="363.5" y="614" width="1.5" height="27" fill="#a3acba"/>
<rect x="363" y="789" width="4.5" height="40" fill="#6e7b8e"/>
<ellipse cx="372" cy="660" rx="45" ry="35" fill="#56627a" opacity="0.3" filter="url(#blur4)"/>
<path d="M390,699 Q390,695.5 396,695.5 L430,695.5" fill="none" stroke="#4b5e77" stroke-width="6.5" stroke-linecap="round" stroke-linejoin="round"/><path d="M390,699 Q390,695.5 396,695.5 L430,695.5" fill="none" stroke="#7d93ae" stroke-width="4.5" stroke-linecap="round" stroke-linejoin="round" transform="translate(-0.4,-0.5)"/><path d="M390,699 Q390,695.5 396,695.5 L430,695.5" fill="none" stroke="#b3c3d6" stroke-width="1.8" stroke-linecap="round" stroke-linejoin="round" transform="translate(-0.8,-1)"/>
<path d="M388,818.7 L430,818.7" fill="none" stroke="#4b5e77" stroke-width="4.5" stroke-linecap="round" stroke-linejoin="round"/><path d="M388,818.7 L430,818.7" fill="none" stroke="#7d93ae" stroke-width="3.1" stroke-linecap="round" stroke-linejoin="round" transform="translate(-0.4,-0.5)"/><path d="M388,818.7 L430,818.7" fill="none" stroke="#b3c3d6" stroke-width="1.3" stroke-linecap="round" stroke-linejoin="round" transform="translate(-0.8,-1)"/>
<path d="M395,700.5 A36.150000000000006,4 0 0 0 322.7,699.0" fill="none" stroke="#586d89" stroke-width="6.6" opacity="0.6"/>
<path d="M322.7,702.0 A36.150000000000006,4 0 0 0 395,700.5" fill="none" stroke="#485d7a" stroke-width="11" stroke-linecap="round"/>
<path d="M322.7,701.1 A36.150000000000006,4 0 0 0 395,699.6" fill="none" stroke="#7891b3" stroke-width="8.1" stroke-linecap="round"/>
<path d="M322.7,700.1 A36.150000000000006,4 0 0 0 395,698.6" fill="none" stroke="#a6bbd5" stroke-width="4.4" stroke-linecap="round"/>
<path d="M335.4,703.0 Q358.9,703.8 384.2,701.6" fill="none" stroke="#dce6f2" stroke-width="1.4" stroke-linecap="round" opacity="0.8"/>
<path d="M409.2,717.0 A43.25,4 0 0 0 322.7,715.5" fill="none" stroke="#586d89" stroke-width="6.6" opacity="0.6"/>
<path d="M409.2,732.5 A43.25,4 0 0 0 322.7,731.0" fill="none" stroke="#586d89" stroke-width="6.6" opacity="0.6"/>
<path d="M409.2,748.5 A43.25,4 0 0 0 322.7,747.0" fill="none" stroke="#586d89" stroke-width="6.6" opacity="0.6"/>
<path d="M409.2,765.0 A43.25,4 0 0 0 322.7,763.5" fill="none" stroke="#586d89" stroke-width="6.6" opacity="0.6"/>
<path d="M409.2,780.9 A43.25,4 0 0 0 322.7,779.4" fill="none" stroke="#586d89" stroke-width="6.6" opacity="0.6"/>
<path d="M409.2,798.0 A43.25,4 0 0 0 322.7,796.5" fill="none" stroke="#586d89" stroke-width="6.6" opacity="0.6"/>
<path d="M409.2,815.0 A43.25,4 0 0 0 322.7,813.5" fill="none" stroke="#586d89" stroke-width="6.6" opacity="0.6"/>
<path d="M409.2,840.3 A43.25,4 0 0 0 322.7,838.8" fill="none" stroke="#586d89" stroke-width="6.6" opacity="0.6"/>
<path d="M409.2,855.7 A43.25,4 0 0 0 322.7,854.2" fill="none" stroke="#586d89" stroke-width="6.6" opacity="0.6"/>
<path d="M322.7,718.5 A43.25,4 0 0 0 409.2,717.0" fill="none" stroke="#485d7a" stroke-width="11" stroke-linecap="round"/>
<path d="M322.7,717.6 A43.25,4 0 0 0 409.2,716.1" fill="none" stroke="#7891b3" stroke-width="8.1" stroke-linecap="round"/>
<path d="M322.7,716.6 A43.25,4 0 0 0 409.2,715.1" fill="none" stroke="#a6bbd5" stroke-width="4.4" stroke-linecap="round"/>
<path d="M337.8,719.5 Q365.9,720.3 396.2,718.1" fill="none" stroke="#dce6f2" stroke-width="1.4" stroke-linecap="round" opacity="0.8"/>
<path d="M322.7,734.0 A43.25,4 0 0 0 409.2,732.5" fill="none" stroke="#485d7a" stroke-width="11" stroke-linecap="round"/>
<path d="M322.7,733.1 A43.25,4 0 0 0 409.2,731.6" fill="none" stroke="#7891b3" stroke-width="8.1" stroke-linecap="round"/>
<path d="M322.7,732.1 A43.25,4 0 0 0 409.2,730.6" fill="none" stroke="#a6bbd5" stroke-width="4.4" stroke-linecap="round"/>
<path d="M337.8,735.0 Q365.9,735.8 396.2,733.6" fill="none" stroke="#dce6f2" stroke-width="1.4" stroke-linecap="round" opacity="0.8"/>
<path d="M322.7,750.0 A43.25,4 0 0 0 409.2,748.5" fill="none" stroke="#485d7a" stroke-width="11" stroke-linecap="round"/>
<path d="M322.7,749.1 A43.25,4 0 0 0 409.2,747.6" fill="none" stroke="#7891b3" stroke-width="8.1" stroke-linecap="round"/>
<path d="M322.7,748.1 A43.25,4 0 0 0 409.2,746.6" fill="none" stroke="#a6bbd5" stroke-width="4.4" stroke-linecap="round"/>
<path d="M337.8,751.0 Q365.9,751.8 396.2,749.6" fill="none" stroke="#dce6f2" stroke-width="1.4" stroke-linecap="round" opacity="0.8"/>
<path d="M322.7,766.5 A43.25,4 0 0 0 409.2,765.0" fill="none" stroke="#485d7a" stroke-width="11" stroke-linecap="round"/>
<path d="M322.7,765.6 A43.25,4 0 0 0 409.2,764.1" fill="none" stroke="#7891b3" stroke-width="8.1" stroke-linecap="round"/>
<path d="M322.7,764.6 A43.25,4 0 0 0 409.2,763.1" fill="none" stroke="#a6bbd5" stroke-width="4.4" stroke-linecap="round"/>
<path d="M337.8,767.5 Q365.9,768.3 396.2,766.1" fill="none" stroke="#dce6f2" stroke-width="1.4" stroke-linecap="round" opacity="0.8"/>
<path d="M322.7,782.4 A43.25,4 0 0 0 409.2,780.9" fill="none" stroke="#485d7a" stroke-width="11" stroke-linecap="round"/>
<path d="M322.7,781.5 A43.25,4 0 0 0 409.2,780.0" fill="none" stroke="#7891b3" stroke-width="8.1" stroke-linecap="round"/>
<path d="M322.7,780.5 A43.25,4 0 0 0 409.2,779.0" fill="none" stroke="#a6bbd5" stroke-width="4.4" stroke-linecap="round"/>
<path d="M337.8,783.4 Q365.9,784.2 396.2,782.0" fill="none" stroke="#dce6f2" stroke-width="1.4" stroke-linecap="round" opacity="0.8"/>
<path d="M322.7,799.5 A43.25,4 0 0 0 409.2,798.0" fill="none" stroke="#485d7a" stroke-width="11" stroke-linecap="round"/>
<path d="M322.7,798.6 A43.25,4 0 0 0 409.2,797.1" fill="none" stroke="#7891b3" stroke-width="8.1" stroke-linecap="round"/>
<path d="M322.7,797.6 A43.25,4 0 0 0 409.2,796.1" fill="none" stroke="#a6bbd5" stroke-width="4.4" stroke-linecap="round"/>
<path d="M337.8,800.5 Q365.9,801.3 396.2,799.1" fill="none" stroke="#dce6f2" stroke-width="1.4" stroke-linecap="round" opacity="0.8"/>
<path d="M322.7,816.5 A43.25,4 0 0 0 409.2,815.0" fill="none" stroke="#485d7a" stroke-width="11" stroke-linecap="round"/>
<path d="M322.7,815.6 A43.25,4 0 0 0 409.2,814.1" fill="none" stroke="#7891b3" stroke-width="8.1" stroke-linecap="round"/>
<path d="M322.7,814.6 A43.25,4 0 0 0 409.2,813.1" fill="none" stroke="#a6bbd5" stroke-width="4.4" stroke-linecap="round"/>
<path d="M337.8,817.5 Q365.9,818.3 396.2,816.1" fill="none" stroke="#dce6f2" stroke-width="1.4" stroke-linecap="round" opacity="0.8"/>
<path d="M322.7,841.8 A43.25,4 0 0 0 409.2,840.3" fill="none" stroke="#485d7a" stroke-width="11" stroke-linecap="round"/>
<path d="M322.7,840.9 A43.25,4 0 0 0 409.2,839.4" fill="none" stroke="#7891b3" stroke-width="8.1" stroke-linecap="round"/>
<path d="M322.7,839.9 A43.25,4 0 0 0 409.2,838.4" fill="none" stroke="#a6bbd5" stroke-width="4.4" stroke-linecap="round"/>
<path d="M337.8,842.8 Q365.9,843.6 396.2,841.4" fill="none" stroke="#dce6f2" stroke-width="1.4" stroke-linecap="round" opacity="0.8"/>
<path d="M322.7,857.2 A43.25,4 0 0 0 409.2,855.7" fill="none" stroke="#485d7a" stroke-width="11" stroke-linecap="round"/>
<path d="M322.7,856.3 A43.25,4 0 0 0 409.2,854.8" fill="none" stroke="#7891b3" stroke-width="8.1" stroke-linecap="round"/>
<path d="M322.7,855.3 A43.25,4 0 0 0 409.2,853.8" fill="none" stroke="#a6bbd5" stroke-width="4.4" stroke-linecap="round"/>
<path d="M337.8,858.2 Q365.9,859.0 396.2,856.8" fill="none" stroke="#dce6f2" stroke-width="1.4" stroke-linecap="round" opacity="0.8"/>
<path d="M364.5,890 L364.5,834 Q364.5,829 369,829 Q373.5,829 373.5,834 L373.5,890 M368.5,890 L368.5,836 Q368.5,833 371,833" stroke="#8e5042" stroke-width="2.2" fill="none"/></g>
<path d="M315.8,640.6 C315.8,625.6 338.5,615.6 372.6,615.6 C406.7,615.6 429.4,625.6 429.4,640.6 L429.4,754 C429.4,888.0 395.3,888 372.6,888 C349.9,888 315.8,888.0 315.8,754 Z" fill="none" stroke="#8d99a8" stroke-width="1.2"/>
<path d="M444,688 Q450,688 450,694.6 Q450,701 444,701 Z" fill="#d42a2a"/><rect x="449" y="691.6" width="4" height="6" fill="#c8cdd2"/>
<path d="M444,855 Q450,855 450,861 Q450,867 444,867 Z" fill="#2f6fc9"/><rect x="449" y="858" width="4" height="6" fill="#c8cdd2"/>
<path d="M569.6,906 L639.4,906 L639.4,914 A34.89999999999998,11.799999999999955 0 0 1 569.6,914 Z" fill="url(#cap2)"/>
<path d="M577.6,915 A26.899999999999977,8.3 0 0 0 631.4,915" fill="#a9aeb3" opacity="0.6"/>
<path d="M570.6,914 A33.89999999999998,10.799999999999955 0 0 0 638.4,914" fill="none" stroke="#dfe2e5" stroke-width="1" opacity="0.7"/>
<rect x="605.5" y="915.5" width="7" height="7.5" fill="#b81d20"/><rect x="607" y="917" width="4" height="4" fill="#d8302e"/>
<path d="M514.5,482.4 A86.55000000000001,17.69999999999999 0 0 1 687.6,482.4 L687.6,904.7 A86.55000000000001,9.299999999999955 0 0 1 514.5,904.7 Z" fill="url(#body)"/>
<path d="M514.5,892.8 A86.55000000000001,9.299999999999955 0 0 0 687.6,892.8 L687.6,904.7 A86.55000000000001,9.299999999999955 0 0 1 514.5,904.7 Z" fill="#ffffff" opacity="0.35"/>
<path d="M514.5,892.8 A86.55000000000001,9.299999999999955 0 0 0 687.6,892.8" fill="none" stroke="#b5bcc4" stroke-width="1"/>
<rect x="522.8" y="482.4" width="10.2" height="410.4" fill="url(#lstrip)" opacity="0.9"/>
<path d="M514.5,496.4 L533,496.4" stroke="#c3c8cd" stroke-width="0.8"/>
<path d="M514.5,482.4 A86.55000000000001,17.69999999999999 0 0 1 687.6,482.4 A86.55000000000001,6.2 0 0 1 514.5,482.4 Z" fill="#fdfdfe"/>
<path d="M515.5,483.4 A86.55000000000001,6.2 0 0 0 686.6,483.4" fill="none" stroke="#d9dde1" stroke-width="1.2" opacity="0.7"/>
<path d="M533,483.7 L682.5,483.7 L682.5,789 C682.5,857.2 641.4,899 607.75,899 C574.1,899 533,857.2 533,789 Z" fill="#f0e2a6"/>
<path d="M533,483.7 L682.5,483.7 L682.5,789 C682.5,857.2 641.4,899 607.75,899 C574.1,899 533,857.2 533,789 Z" fill="url(#speck)"/>
<clipPath id="clipS2"><path d="M545,516.7 C545,501.3 570.2,491 608.0,491 C645.8,491 671,501.3 671,516.7 L671,757 C671,877.0 633.2,877 608.0,877 C582.8,877 545,877.0 545,757 Z"/></clipPath>
<path d="M545,516.7 C545,501.3 570.2,491 608.0,491 C645.8,491 671,501.3 671,516.7 L671,757 C671,877.0 633.2,877 608.0,877 C582.8,877 545,877.0 545,757 Z" fill="url(#dark)"/>
<g clip-path="url(#clipS2)"><rect x="540" y="485" width="135" height="400" fill="url(#dark)"/>
<rect x="540" y="485" width="135" height="400" filter="url(#tex)" opacity="0.3"/>
<ellipse cx="600" cy="520" rx="50" ry="40" fill="#56627a" opacity="0.35" filter="url(#blur4)"/>
<path d="M600.7,488 L600.7,585" fill="none" stroke="#4b5e77" stroke-width="7" stroke-linecap="round" stroke-linejoin="round"/><path d="M600.7,488 L600.7,585" fill="none" stroke="#7d93ae" stroke-width="4.9" stroke-linecap="round" stroke-linejoin="round" transform="translate(-0.4,-0.5)"/><path d="M600.7,488 L600.7,585" fill="none" stroke="#b3c3d6" stroke-width="2.0" stroke-linecap="round" stroke-linejoin="round" transform="translate(-0.8,-1)"/>
<path d="M612.6,489 L641,519 Q645,524 652,524 L668,524" fill="none" stroke="#4b5e77" stroke-width="7" stroke-linecap="round" stroke-linejoin="round"/><path d="M612.6,489 L641,519 Q645,524 652,524 L668,524" fill="none" stroke="#7d93ae" stroke-width="4.9" stroke-linecap="round" stroke-linejoin="round" transform="translate(-0.4,-0.5)"/><path d="M612.6,489 L641,519 Q645,524 652,524 L668,524" fill="none" stroke="#b3c3d6" stroke-width="2.0" stroke-linecap="round" stroke-linejoin="round" transform="translate(-0.8,-1)"/>
<rect x="665.5" y="517" width="4.5" height="14" fill="#8a9bb2"/>
<path d="M636,548 Q636,544 641,544 L670,544" fill="none" stroke="#4b5e77" stroke-width="6" stroke-linecap="round" stroke-linejoin="round"/><path d="M636,548 Q636,544 641,544 L670,544" fill="none" stroke="#7d93ae" stroke-width="4.2" stroke-linecap="round" stroke-linejoin="round" transform="translate(-0.4,-0.5)"/><path d="M636,548 Q636,544 641,544 L670,544" fill="none" stroke="#b3c3d6" stroke-width="1.7" stroke-linecap="round" stroke-linejoin="round" transform="translate(-0.8,-1)"/>
<path d="M625,630 L670,630" fill="none" stroke="#4b5e77" stroke-width="4.5" stroke-linecap="round" stroke-linejoin="round"/><path d="M625,630 L670,630" fill="none" stroke="#7d93ae" stroke-width="3.1" stroke-linecap="round" stroke-linejoin="round" transform="translate(-0.4,-0.5)"/><path d="M625,630 L670,630" fill="none" stroke="#b3c3d6" stroke-width="1.3" stroke-linecap="round" stroke-linejoin="round" transform="translate(-0.8,-1)"/>
<path d="M619,663 L670,663" fill="none" stroke="#4b5e77" stroke-width="6" stroke-linecap="round" stroke-linejoin="round"/><path d="M619,663 L670,663" fill="none" stroke="#7d93ae" stroke-width="4.2" stroke-linecap="round" stroke-linejoin="round" transform="translate(-0.4,-0.5)"/><path d="M619,663 L670,663" fill="none" stroke="#b3c3d6" stroke-width="1.7" stroke-linecap="round" stroke-linejoin="round" transform="translate(-0.8,-1)"/>
<path d="M630,689 L670,689" fill="none" stroke="#4b5e77" stroke-width="6" stroke-linecap="round" stroke-linejoin="round"/><path d="M630,689 L670,689" fill="none" stroke="#7d93ae" stroke-width="4.2" stroke-linecap="round" stroke-linejoin="round" transform="translate(-0.4,-0.5)"/><path d="M630,689 L670,689" fill="none" stroke="#b3c3d6" stroke-width="1.7" stroke-linecap="round" stroke-linejoin="round" transform="translate(-0.8,-1)"/>
<path d="M628,799.3 L670,799.3" fill="none" stroke="#4b5e77" stroke-width="4.5" stroke-linecap="round" stroke-linejoin="round"/><path d="M628,799.3 L670,799.3" fill="none" stroke="#7d93ae" stroke-width="3.1" stroke-linecap="round" stroke-linejoin="round" transform="translate(-0.4,-0.5)"/><path d="M628,799.3 L670,799.3" fill="none" stroke="#b3c3d6" stroke-width="1.3" stroke-linecap="round" stroke-linejoin="round" transform="translate(-0.8,-1)"/>
<path d="M655,568.7 A53.10000000000002,5.5 0 0 0 548.8,567.2" fill="none" stroke="#586d89" stroke-width="7.2" opacity="0.6"/>
<path d="M655,587.5 A53.10000000000002,5.5 0 0 0 548.8,586.0" fill="none" stroke="#586d89" stroke-width="7.2" opacity="0.6"/>
<path d="M655,606.2 A53.10000000000002,5.5 0 0 0 548.8,604.7" fill="none" stroke="#586d89" stroke-width="7.2" opacity="0.6"/>
<path d="M655,623.8 A53.10000000000002,5.5 0 0 0 548.8,622.3" fill="none" stroke="#586d89" stroke-width="7.2" opacity="0.6"/>
<path d="M655,645.8 A53.10000000000002,5.5 0 0 0 548.8,644.3" fill="none" stroke="#586d89" stroke-width="7.2" opacity="0.6"/>
<path d="M548.8,570.2 A53.10000000000002,5.5 0 0 0 655,568.7" fill="none" stroke="#485d7a" stroke-width="12" stroke-linecap="round"/>
<path d="M548.8,569.2 A53.10000000000002,5.5 0 0 0 655,567.7" fill="none" stroke="#7891b3" stroke-width="8.9" stroke-linecap="round"/>
<path d="M548.8,568.2 A53.10000000000002,5.5 0 0 0 655,566.7" fill="none" stroke="#a6bbd5" stroke-width="4.8" stroke-linecap="round"/>
<path d="M567.4,572.2 Q601.9,573.3 639.1,570.7" fill="none" stroke="#dce6f2" stroke-width="1.6" stroke-linecap="round" opacity="0.8"/>
<path d="M548.8,589.0 A53.10000000000002,5.5 0 0 0 655,587.5" fill="none" stroke="#485d7a" stroke-width="12" stroke-linecap="round"/>
<path d="M548.8,588.0 A53.10000000000002,5.5 0 0 0 655,586.5" fill="none" stroke="#7891b3" stroke-width="8.9" stroke-linecap="round"/>
<path d="M548.8,587.0 A53.10000000000002,5.5 0 0 0 655,585.5" fill="none" stroke="#a6bbd5" stroke-width="4.8" stroke-linecap="round"/>
<path d="M567.4,591.0 Q601.9,592.1 639.1,589.5" fill="none" stroke="#dce6f2" stroke-width="1.6" stroke-linecap="round" opacity="0.8"/>
<path d="M548.8,607.7 A53.10000000000002,5.5 0 0 0 655,606.2" fill="none" stroke="#485d7a" stroke-width="12" stroke-linecap="round"/>
<path d="M548.8,606.7 A53.10000000000002,5.5 0 0 0 655,605.2" fill="none" stroke="#7891b3" stroke-width="8.9" stroke-linecap="round"/>
<path d="M548.8,605.7 A53.10000000000002,5.5 0 0 0 655,604.2" fill="none" stroke="#a6bbd5" stroke-width="4.8" stroke-linecap="round"/>
<path d="M567.4,609.7 Q601.9,610.8 639.1,608.2" fill="none" stroke="#dce6f2" stroke-width="1.6" stroke-linecap="round" opacity="0.8"/>
<path d="M548.8,625.3 A53.10000000000002,5.5 0 0 0 655,623.8" fill="none" stroke="#485d7a" stroke-width="12" stroke-linecap="round"/>
<path d="M548.8,624.3 A53.10000000000002,5.5 0 0 0 655,622.8" fill="none" stroke="#7891b3" stroke-width="8.9" stroke-linecap="round"/>
<path d="M548.8,623.3 A53.10000000000002,5.5 0 0 0 655,621.8" fill="none" stroke="#a6bbd5" stroke-width="4.8" stroke-linecap="round"/>
<path d="M567.4,627.3 Q601.9,628.4 639.1,625.8" fill="none" stroke="#dce6f2" stroke-width="1.6" stroke-linecap="round" opacity="0.8"/>
<path d="M548.8,647.3 A53.10000000000002,5.5 0 0 0 655,645.8" fill="none" stroke="#485d7a" stroke-width="12" stroke-linecap="round"/>
<path d="M548.8,646.3 A53.10000000000002,5.5 0 0 0 655,644.8" fill="none" stroke="#7891b3" stroke-width="8.9" stroke-linecap="round"/>
<path d="M548.8,645.3 A53.10000000000002,5.5 0 0 0 655,643.8" fill="none" stroke="#a6bbd5" stroke-width="4.8" stroke-linecap="round"/>
<path d="M567.4,649.3 Q601.9,650.4 639.1,647.8" fill="none" stroke="#dce6f2" stroke-width="1.6" stroke-linecap="round" opacity="0.8"/>
<path d="M635,550.0 A43.10000000000002,5 0 0 0 548.8,548.5" fill="none" stroke="#586d89" stroke-width="7.2" opacity="0.6"/>
<path d="M548.8,551.5 A43.10000000000002,5 0 0 0 635,550.0" fill="none" stroke="#485d7a" stroke-width="12" stroke-linecap="round"/>
<path d="M548.8,550.5 A43.10000000000002,5 0 0 0 635,549.0" fill="none" stroke="#7891b3" stroke-width="8.9" stroke-linecap="round"/>
<path d="M548.8,549.5 A43.10000000000002,5 0 0 0 635,548.0" fill="none" stroke="#a6bbd5" stroke-width="4.8" stroke-linecap="round"/>
<path d="M563.9,553.1 Q591.9,554.1 622.1,551.6" fill="none" stroke="#dce6f2" stroke-width="1.6" stroke-linecap="round" opacity="0.8"/>
<rect x="597.5" y="765" width="5" height="50" fill="#6e7b8e"/>
<path d="M599,880 L599,790 M604,880 L604,790 M611,880 L611,810" stroke="#7e4538" stroke-width="2.4" fill="none"/>
<path d="M598.5,880 L598.5,790 M610.5,880 L610.5,810" stroke="#b27262" stroke-width="0.8" fill="none"/>
<path d="M655,692.0 A53.5,5 0 0 0 548,690.5" fill="none" stroke="#586d89" stroke-width="6.9" opacity="0.6"/>
<path d="M655,710.8 A53.5,5 0 0 0 548,709.3" fill="none" stroke="#586d89" stroke-width="6.9" opacity="0.6"/>
<path d="M655,726.8 A53.5,5 0 0 0 548,725.3" fill="none" stroke="#586d89" stroke-width="6.9" opacity="0.6"/>
<path d="M655,742.5 A53.5,5 0 0 0 548,741.0" fill="none" stroke="#586d89" stroke-width="6.9" opacity="0.6"/>
<path d="M655,760.1 A53.5,5 0 0 0 548,758.6" fill="none" stroke="#586d89" stroke-width="6.9" opacity="0.6"/>
<path d="M655,776.5 A53.5,5 0 0 0 548,775.0" fill="none" stroke="#586d89" stroke-width="6.9" opacity="0.6"/>
<path d="M655,793.5 A53.5,5 0 0 0 548,792.0" fill="none" stroke="#586d89" stroke-width="6.9" opacity="0.6"/>
<path d="M655,812.3 A53.5,5 0 0 0 548,810.8" fill="none" stroke="#586d89" stroke-width="6.9" opacity="0.6"/>
<path d="M655,829.7 A53.5,5 0 0 0 548,828.2" fill="none" stroke="#586d89" stroke-width="6.9" opacity="0.6"/>
<path d="M548,693.5 A53.5,5 0 0 0 655,692.0" fill="none" stroke="#485d7a" stroke-width="11.5" stroke-linecap="round"/>
<path d="M548,692.6 A53.5,5 0 0 0 655,691.1" fill="none" stroke="#7891b3" stroke-width="8.5" stroke-linecap="round"/>
<path d="M548,691.5 A53.5,5 0 0 0 655,690.0" fill="none" stroke="#a6bbd5" stroke-width="4.6" stroke-linecap="round"/>
<path d="M566.7,695.2 Q601.5,696.2 639.0,693.7" fill="none" stroke="#dce6f2" stroke-width="1.5" stroke-linecap="round" opacity="0.8"/>
<path d="M548,712.3 A53.5,5 0 0 0 655,710.8" fill="none" stroke="#485d7a" stroke-width="11.5" stroke-linecap="round"/>
<path d="M548,711.4 A53.5,5 0 0 0 655,709.9" fill="none" stroke="#7891b3" stroke-width="8.5" stroke-linecap="round"/>
<path d="M548,710.3 A53.5,5 0 0 0 655,708.8" fill="none" stroke="#a6bbd5" stroke-width="4.6" stroke-linecap="round"/>
<path d="M566.7,714.0 Q601.5,715.0 639.0,712.5" fill="none" stroke="#dce6f2" stroke-width="1.5" stroke-linecap="round" opacity="0.8"/>
<path d="M548,728.3 A53.5,5 0 0 0 655,726.8" fill="none" stroke="#485d7a" stroke-width="11.5" stroke-linecap="round"/>
<path d="M548,727.4 A53.5,5 0 0 0 655,725.9" fill="none" stroke="#7891b3" stroke-width="8.5" stroke-linecap="round"/>
<path d="M548,726.3 A53.5,5 0 0 0 655,724.8" fill="none" stroke="#a6bbd5" stroke-width="4.6" stroke-linecap="round"/>
<path d="M566.7,730.0 Q601.5,731.0 639.0,728.5" fill="none" stroke="#dce6f2" stroke-width="1.5" stroke-linecap="round" opacity="0.8"/>
<path d="M548,744.0 A53.5,5 0 0 0 655,742.5" fill="none" stroke="#485d7a" stroke-width="11.5" stroke-linecap="round"/>
<path d="M548,743.1 A53.5,5 0 0 0 655,741.6" fill="none" stroke="#7891b3" stroke-width="8.5" stroke-linecap="round"/>
<path d="M548,742.0 A53.5,5 0 0 0 655,740.5" fill="none" stroke="#a6bbd5" stroke-width="4.6" stroke-linecap="round"/>
<path d="M566.7,745.7 Q601.5,746.7 639.0,744.2" fill="none" stroke="#dce6f2" stroke-width="1.5" stroke-linecap="round" opacity="0.8"/>
<path d="M548,761.6 A53.5,5 0 0 0 655,760.1" fill="none" stroke="#485d7a" stroke-width="11.5" stroke-linecap="round"/>
<path d="M548,760.7 A53.5,5 0 0 0 655,759.2" fill="none" stroke="#7891b3" stroke-width="8.5" stroke-linecap="round"/>
<path d="M548,759.6 A53.5,5 0 0 0 655,758.1" fill="none" stroke="#a6bbd5" stroke-width="4.6" stroke-linecap="round"/>
<path d="M566.7,763.3 Q601.5,764.3 639.0,761.8" fill="none" stroke="#dce6f2" stroke-width="1.5" stroke-linecap="round" opacity="0.8"/>
<path d="M548,778.0 A53.5,5 0 0 0 655,776.5" fill="none" stroke="#485d7a" stroke-width="11.5" stroke-linecap="round"/>
<path d="M548,777.1 A53.5,5 0 0 0 655,775.6" fill="none" stroke="#7891b3" stroke-width="8.5" stroke-linecap="round"/>
<path d="M548,776.0 A53.5,5 0 0 0 655,774.5" fill="none" stroke="#a6bbd5" stroke-width="4.6" stroke-linecap="round"/>
<path d="M566.7,779.7 Q601.5,780.7 639.0,778.2" fill="none" stroke="#dce6f2" stroke-width="1.5" stroke-linecap="round" opacity="0.8"/>
<path d="M548,795.0 A53.5,5 0 0 0 655,793.5" fill="none" stroke="#485d7a" stroke-width="11.5" stroke-linecap="round"/>
<path d="M548,794.1 A53.5,5 0 0 0 655,792.6" fill="none" stroke="#7891b3" stroke-width="8.5" stroke-linecap="round"/>
<path d="M548,793.0 A53.5,5 0 0 0 655,791.5" fill="none" stroke="#a6bbd5" stroke-width="4.6" stroke-linecap="round"/>
<path d="M566.7,796.7 Q601.5,797.7 639.0,795.2" fill="none" stroke="#dce6f2" stroke-width="1.5" stroke-linecap="round" opacity="0.8"/>
<path d="M548,813.8 A53.5,5 0 0 0 655,812.3" fill="none" stroke="#485d7a" stroke-width="11.5" stroke-linecap="round"/>
<path d="M548,812.9 A53.5,5 0 0 0 655,811.4" fill="none" stroke="#7891b3" stroke-width="8.5" stroke-linecap="round"/>
<path d="M548,811.8 A53.5,5 0 0 0 655,810.3" fill="none" stroke="#a6bbd5" stroke-width="4.6" stroke-linecap="round"/>
<path d="M566.7,815.5 Q601.5,816.5 639.0,814.0" fill="none" stroke="#dce6f2" stroke-width="1.5" stroke-linecap="round" opacity="0.8"/>
<path d="M548,831.2 A53.5,5 0 0 0 655,829.7" fill="none" stroke="#485d7a" stroke-width="11.5" stroke-linecap="round"/>
<path d="M548,830.3 A53.5,5 0 0 0 655,828.8" fill="none" stroke="#7891b3" stroke-width="8.5" stroke-linecap="round"/>
<path d="M548,829.2 A53.5,5 0 0 0 655,827.7" fill="none" stroke="#a6bbd5" stroke-width="4.6" stroke-linecap="round"/>
<path d="M566.7,832.9 Q601.5,833.9 639.0,831.4" fill="none" stroke="#dce6f2" stroke-width="1.5" stroke-linecap="round" opacity="0.8"/></g>
<path d="M545,516.7 C545,501.3 570.2,491 608.0,491 C645.8,491 671,501.3 671,516.7 L671,757 C671,877.0 633.2,877 608.0,877 C582.8,877 545,877.0 545,757 Z" fill="none" stroke="#8d99a8" stroke-width="1.2"/>
<path d="M687.6,656.6 Q693.5,656.6 693.5,662.6 Q693.5,668.6 687.6,668.6 Z" fill="#2f6fc9"/><rect x="692.5" y="659.6" width="3" height="6" fill="#c8cdd2"/>
<path d="M687.6,682.6 Q693.5,682.6 693.5,688.6 Q693.5,694.6 687.6,694.6 Z" fill="#d42a2a"/><rect x="692.5" y="685.6" width="3" height="6" fill="#c8cdd2"/>
<path d="M687.6,826.6 Q693.5,826.6 693.5,832.6 Q693.5,838.6 687.6,838.6 Z" fill="#2f6fc9"/><rect x="692.5" y="829.6" width="3" height="6" fill="#c8cdd2"/>
<rect x="386.2" y="135.5" width="3.3" height="47" fill="url(#rod)"/>
<rect x="383.2" y="181.5" width="9.2" height="40" fill="url(#rod)"/>
<path d="M379.3,221 L397,221 L395,226.5 L381.3,226.5 Z" fill="#a0211b"/>
<rect x="384" y="226.5" width="7.5" height="5.5" fill="#55595e"/>
<rect x="385" y="276" width="6" height="15.5" fill="#e4e6e8"/>
<rect x="385" y="277.5" width="6" height="0.8" fill="#a9adb1"/>
<rect x="385" y="279.9" width="6" height="0.8" fill="#a9adb1"/>
<rect x="385" y="282.3" width="6" height="0.8" fill="#a9adb1"/>
<rect x="385" y="284.7" width="6" height="0.8" fill="#a9adb1"/>
<rect x="385" y="287.1" width="6" height="0.8" fill="#a9adb1"/>
<rect x="385" y="289.5" width="6" height="0.8" fill="#a9adb1"/>
<rect x="383.2" y="291" width="9.2" height="39.5" fill="url(#rod)"/>
<path d="M379.3,330.3 L397,330.3 L395,336 L381.3,336 Z" fill="#24418a"/>
<rect x="384" y="336" width="7.5" height="6" fill="#55595e"/>
<radialGradient id="bez" gradientUnits="userSpaceOnUse" cx="434" cy="376" r="24"><stop offset="0" stop-color="#eef0f2"/><stop offset="0.7" stop-color="#d3d6d9"/><stop offset="1" stop-color="#aeb3b8"/></radialGradient>
<circle cx="438.5" cy="381" r="19.5" fill="url(#bez)"/>
<circle cx="438.5" cy="381" r="16.4" fill="#7d8287"/>
<circle cx="438.5" cy="381" r="15" fill="#f1f2f3"/>
<circle cx="439" cy="382" r="13" fill="#f7f7f8"/>
<path d="M427,377.5 A12.5,12.5 0 0 1 450.5,377" fill="none" stroke="#d9231d" stroke-width="1.6"/>
<path d="M442,368 A12.5,12.5 0 0 1 450.5,377" fill="none" stroke="#d9231d" stroke-width="3.5"/>
<path d="M434,371.5 L441.5,383.5" stroke="#c81e19" stroke-width="1.8" stroke-linecap="round"/>
<path d="M566,383.6 L599.6,370.4" stroke="#7a5a1c" stroke-width="3" stroke-linecap="round"/><path d="M566,382.8 L599.6,369.6" stroke="#c8a24c" stroke-width="1.1"/>
<path d="M528,400 L528,410 L556,410 L556,400 Z" fill="#24140f"/>
<ellipse cx="543.6" cy="383" rx="23.7" ry="22.5" fill="#2b1a15"/>
<ellipse cx="541" cy="378" rx="16" ry="14" fill="#34221c"/>
<rect x="531" y="363" width="13" height="14" rx="2" fill="#3a2620"/>
<circle cx="539" cy="390" r="9.5" fill="#1d100c"/>
<circle cx="539" cy="390" r="6" fill="#2c1b16"/>
<path d="M530.5,394 Q531,390 535,390 L537,386.5 L541,386.5 L541.5,391 Q542.5,396 538,397.5 L533,398 Q530.5,397.5 530.5,394 Z" fill="#e8262c"/>
<circle cx="526.5" cy="373" r="2.2" fill="#9b7422"/><circle cx="526.0" cy="372.5" r="1" fill="#e0b85a"/>
<circle cx="548.2" cy="369.8" r="2.2" fill="#9b7422"/><circle cx="547.7" cy="369.3" r="1" fill="#e0b85a"/>
<circle cx="554.8" cy="377" r="2.2" fill="#9b7422"/><circle cx="554.3" cy="376.5" r="1" fill="#e0b85a"/>
<circle cx="547.5" cy="381.6" r="2.2" fill="#9b7422"/><circle cx="547.0" cy="381.1" r="1" fill="#e0b85a"/>
<linearGradient id="chrome" x1="0" y1="0" x2="1" y2="0"><stop offset="0" stop-color="#8f9499"/><stop offset="0.35" stop-color="#eef0f1"/><stop offset="0.6" stop-color="#c3c7cb"/><stop offset="0.8" stop-color="#6c7176"/><stop offset="1" stop-color="#a8adb2"/></linearGradient>
<linearGradient id="chromeV" x1="0" y1="0" x2="0" y2="1"><stop offset="0" stop-color="#a7acb1"/><stop offset="0.3" stop-color="#e8eaec"/><stop offset="0.7" stop-color="#7b8085"/><stop offset="1" stop-color="#5b6065"/></linearGradient>
<rect x="659.5" y="392" width="18.5" height="12.8" fill="url(#chrome)"/>
<rect x="659.5" y="393.5" width="18.5" height="0.9" fill="#5d6267" opacity="0.8"/>
<rect x="659.5" y="396.5" width="18.5" height="0.9" fill="#5d6267" opacity="0.8"/>
<rect x="659.5" y="399.5" width="18.5" height="0.9" fill="#5d6267" opacity="0.8"/>
<rect x="659.5" y="402.5" width="18.5" height="0.9" fill="#5d6267" opacity="0.8"/>
<rect x="656.9" y="364.8" width="22.1" height="27.4" fill="url(#chrome)"/>
<path d="M653.7,361 L656,357.9 L681.5,357.9 L683.8,361 L681.5,364.8 L656,364.8 Z" fill="#eceef0" stroke="#a5aaae" stroke-width="0.5"/>
<ellipse cx="668.5" cy="359.7" rx="8.5" ry="1.5" fill="#2a2d30"/>
<path d="M636,380 L665.3,374.8 L669.5,389 L643.7,396.4 Z" fill="url(#chromeV)"/>
<ellipse cx="638.7" cy="387" rx="5.5" ry="7.8" fill="#7d8287"/>
<rect x="647" y="395" width="5.5" height="6" fill="#b6babe"/>
<path d="M632.6,385.5 L639,384.5 L642.7,412.5 L636,413.5 Z" fill="#1c1e20"/>
<path d="M636,413.5 L642.7,412.5 L642.7,421.7 L636.3,421.7 Z" fill="#f7f8f9"/>
<radialGradient id="dome" gradientUnits="userSpaceOnUse" cx="350" cy="545" r="40"><stop offset="0" stop-color="#e3e5e6"/><stop offset="0.55" stop-color="#d7dadc"/><stop offset="0.85" stop-color="#c6cacd"/><stop offset="1" stop-color="#b3b7ba"/></radialGradient>
<path d="M316.5,536 Q317,513 334,506 Q352,502 368,506.5 Q383,515 385.5,535 Q385.5,556 369,564.5 Q352,570 335,565 Q317,557 316.5,536 Z" fill="url(#dome)"/>
<path d="M333,509 Q352,504 368,509 Q378,516 381,526 Q368,518 352,518 Q340,518 333,509 Z" fill="#b9bdc0" opacity="0.8"/>
<path d="M345,528 Q356,524 362,534 Q356,540 346,538 Z" fill="#eceeef" opacity="0.6"/>
<circle cx="352" cy="532" r="0.8" fill="#8a8f93"/><circle cx="351" cy="539" r="0.6" fill="#8a8f93"/><circle cx="357" cy="509" r="0.8" fill="#8a8f93"/>
<path d="M313.5,545 L318,541.5 L319,548 Z M336,566.5 L340,563.5 L342,568 Z M370,564.5 L374,561 L376,566 Z" fill="#c3c7ca"/>
<ellipse cx="450.4" cy="547.6" rx="22.2" ry="21.6" fill="#141c38"/>
<ellipse cx="450.4" cy="546" rx="20.5" ry="19.5" fill="#23306a"/>
<ellipse cx="450.4" cy="546" rx="17" ry="16" fill="#1b2550"/>
<ellipse cx="451" cy="544" rx="12" ry="11" fill="#172247"/>
<ellipse cx="454" cy="541.6" rx="5.5" ry="5" fill="#d9a081"/>
<circle cx="432" cy="550" r="1" fill="#0b0f20"/>
<circle cx="441" cy="565" r="1" fill="#0b0f20"/>
<circle cx="462" cy="563" r="1" fill="#0b0f20"/>
<circle cx="467" cy="538" r="1" fill="#0b0f20"/>
<circle cx="460" cy="528" r="1" fill="#0b0f20"/>
<path d="M441,469 L443,500 L447,544 M433.5,498 Q433,483 443,483 Q453,483 453,498 L451,544 M435,493 Q436,489 443,489 Q450,489 451,496 M436,500 L444,544" stroke="#6e3424" stroke-width="3" fill="none" stroke-linecap="round"/>
<path d="M440.5,469 L442.5,500 M433,497 Q433,484 443,484 M452.5,498 L450.5,544" stroke="#b06a55" stroke-width="1" fill="none"/>
<path d="M407.2,478 L428.8,472 L448.6,552.4 L436,555.5 Z" fill="#9a9ea1"/>
<path d="M409,478 L417,476 L440,555 L436,555.5 Z" fill="#c1c4c6"/>
<ellipse cx="418" cy="475.6" rx="10.8" ry="7" transform="rotate(-15 418 475.6)" fill="#d9dbdd"/>
<ellipse cx="418" cy="475.6" rx="10.8" ry="7" transform="rotate(-15 418 475.6)" fill="none" stroke="#a9acae" stroke-width="0.6"/>
<g fill="none" stroke="#5b5b5b" stroke-width="1"><polyline points="246,61 313,22 333,22"/><polyline points="246,81 313,48.5 333,48.5"/><polyline points="243,110 313,71.7 333,71.7"/><polyline points="236.4,129.6 313,98 333,98"/><polyline points="171,120 313,171.3 333,171.3"/><polyline points="136.4,142.6 313.8,212 333,212"/><polyline points="215.5,218.5 315,255.6 333,255.6"/><polyline points="169.3,238.3 312.6,285.5 333,285.5"/><polyline points="215,333 300,317 333,317"/><polyline points="181,362 300,337 333,337"/><polyline points="178,451 303,478.5 333,478.5"/><polyline points="349,212 383,212"/><polyline points="349,317 382,318"/><polyline points="442.7,396 455.7,416.9 471,417"/><polyline points="557,398.5 570,416 586,416.8"/><polyline points="677,401.7 685,416 699,416.8"/><polyline points="148.3,835 229.7,803.5 237,802.5"/><polyline points="396,764.9 457,746 464,746"/><polyline points="377,849 457,818 464,818"/><polyline points="645.7,597.6 707.8,581.4 716,580.8"/><polyline points="637.6,759.5 707.8,740.6 716,739.3"/><polyline points="613.3,840.5 707.8,799 716,799"/></g>
<g fill="none" stroke="#e9eef4" stroke-width="1" clip-path="url(#clipT1)"><polyline points="246,61 313,22 333,22"/><polyline points="246,81 313,48.5 333,48.5"/><polyline points="243,110 313,71.7 333,71.7"/><polyline points="236.4,129.6 313,98 333,98"/><polyline points="171,120 313,171.3 333,171.3"/><polyline points="136.4,142.6 313.8,212 333,212"/><polyline points="215.5,218.5 315,255.6 333,255.6"/><polyline points="169.3,238.3 312.6,285.5 333,285.5"/><polyline points="215,333 300,317 333,317"/><polyline points="181,362 300,337 333,337"/><polyline points="178,451 303,478.5 333,478.5"/><polyline points="349,212 383,212"/><polyline points="349,317 382,318"/><polyline points="442.7,396 455.7,416.9 471,417"/><polyline points="557,398.5 570,416 586,416.8"/><polyline points="677,401.7 685,416 699,416.8"/><polyline points="148.3,835 229.7,803.5 237,802.5"/><polyline points="396,764.9 457,746 464,746"/><polyline points="377,849 457,818 464,818"/><polyline points="645.7,597.6 707.8,581.4 716,580.8"/><polyline points="637.6,759.5 707.8,740.6 716,739.3"/><polyline points="613.3,840.5 707.8,799 716,799"/></g>
<g fill="none" stroke="#e9eef4" stroke-width="1" clip-path="url(#clipEL)"><polyline points="246,61 313,22 333,22"/><polyline points="246,81 313,48.5 333,48.5"/><polyline points="243,110 313,71.7 333,71.7"/><polyline points="236.4,129.6 313,98 333,98"/><polyline points="171,120 313,171.3 333,171.3"/><polyline points="136.4,142.6 313.8,212 333,212"/><polyline points="215.5,218.5 315,255.6 333,255.6"/><polyline points="169.3,238.3 312.6,285.5 333,285.5"/><polyline points="215,333 300,317 333,317"/><polyline points="181,362 300,337 333,337"/><polyline points="178,451 303,478.5 333,478.5"/><polyline points="349,212 383,212"/><polyline points="349,317 382,318"/><polyline points="442.7,396 455.7,416.9 471,417"/><polyline points="557,398.5 570,416 586,416.8"/><polyline points="677,401.7 685,416 699,416.8"/><polyline points="148.3,835 229.7,803.5 237,802.5"/><polyline points="396,764.9 457,746 464,746"/><polyline points="377,849 457,818 464,818"/><polyline points="645.7,597.6 707.8,581.4 716,580.8"/><polyline points="637.6,759.5 707.8,740.6 716,739.3"/><polyline points="613.3,840.5 707.8,799 716,799"/></g>
<g fill="none" stroke="#e9eef4" stroke-width="1" clip-path="url(#clipN)"><polyline points="246,61 313,22 333,22"/><polyline points="246,81 313,48.5 333,48.5"/><polyline points="243,110 313,71.7 333,71.7"/><polyline points="236.4,129.6 313,98 333,98"/><polyline points="171,120 313,171.3 333,171.3"/><polyline points="136.4,142.6 313.8,212 333,212"/><polyline points="215.5,218.5 315,255.6 333,255.6"/><polyline points="169.3,238.3 312.6,285.5 333,285.5"/><polyline points="215,333 300,317 333,317"/><polyline points="181,362 300,337 333,337"/><polyline points="178,451 303,478.5 333,478.5"/><polyline points="349,212 383,212"/><polyline points="349,317 382,318"/><polyline points="442.7,396 455.7,416.9 471,417"/><polyline points="557,398.5 570,416 586,416.8"/><polyline points="677,401.7 685,416 699,416.8"/><polyline points="148.3,835 229.7,803.5 237,802.5"/><polyline points="396,764.9 457,746 464,746"/><polyline points="377,849 457,818 464,818"/><polyline points="645.7,597.6 707.8,581.4 716,580.8"/><polyline points="637.6,759.5 707.8,740.6 716,739.3"/><polyline points="613.3,840.5 707.8,799 716,799"/></g>
<g fill="none" stroke="#e9eef4" stroke-width="1" clip-path="url(#clipS2)"><polyline points="246,61 313,22 333,22"/><polyline points="246,81 313,48.5 333,48.5"/><polyline points="243,110 313,71.7 333,71.7"/><polyline points="236.4,129.6 313,98 333,98"/><polyline points="171,120 313,171.3 333,171.3"/><polyline points="136.4,142.6 313.8,212 333,212"/><polyline points="215.5,218.5 315,255.6 333,255.6"/><polyline points="169.3,238.3 312.6,285.5 333,285.5"/><polyline points="215,333 300,317 333,317"/><polyline points="181,362 300,337 333,337"/><polyline points="178,451 303,478.5 333,478.5"/><polyline points="349,212 383,212"/><polyline points="349,317 382,318"/><polyline points="442.7,396 455.7,416.9 471,417"/><polyline points="557,398.5 570,416 586,416.8"/><polyline points="677,401.7 685,416 699,416.8"/><polyline points="148.3,835 229.7,803.5 237,802.5"/><polyline points="396,764.9 457,746 464,746"/><polyline points="377,849 457,818 464,818"/><polyline points="645.7,597.6 707.8,581.4 716,580.8"/><polyline points="637.6,759.5 707.8,740.6 716,739.3"/><polyline points="613.3,840.5 707.8,799 716,799"/></g>
<circle cx="341.6" cy="21" r="8.3" fill="#f2f6fa"/><circle cx="341.6" cy="21" r="7.7" fill="#454545"/><text x="341.6" y="25.1" text-anchor="middle" font-family='"Liberation Sans", sans-serif' font-weight="bold" font-size="11.5" fill="#fff">1</text>
<circle cx="341.6" cy="48.2" r="8.3" fill="#f2f6fa"/><circle cx="341.6" cy="48.2" r="7.7" fill="#454545"/><text x="341.6" y="52.3" text-anchor="middle" font-family='"Liberation Sans", sans-serif' font-weight="bold" font-size="11.5" fill="#fff">2</text>
<circle cx="341.6" cy="71.7" r="8.3" fill="#f2f6fa"/><circle cx="341.6" cy="71.7" r="7.7" fill="#454545"/><text x="341.6" y="75.8" text-anchor="middle" font-family='"Liberation Sans", sans-serif' font-weight="bold" font-size="11.5" fill="#fff">3</text>
<circle cx="341.6" cy="97.5" r="8.3" fill="#f2f6fa"/><circle cx="341.6" cy="97.5" r="7.7" fill="#454545"/><text x="341.6" y="101.6" text-anchor="middle" font-family='"Liberation Sans", sans-serif' font-weight="bold" font-size="11.5" fill="#fff">4</text>
<circle cx="341.6" cy="171.5" r="8.3" fill="#f2f6fa"/><circle cx="341.6" cy="171.5" r="7.7" fill="#454545"/><text x="341.6" y="175.6" text-anchor="middle" font-family='"Liberation Sans", sans-serif' font-weight="bold" font-size="11.5" fill="#fff">5</text>
<circle cx="341.6" cy="212" r="8.3" fill="#f2f6fa"/><circle cx="341.6" cy="212" r="7.7" fill="#454545"/><text x="341.6" y="216.1" text-anchor="middle" font-family='"Liberation Sans", sans-serif' font-weight="bold" font-size="11.5" fill="#fff">6</text>
<circle cx="341.8" cy="255.4" r="8.3" fill="#f2f6fa"/><circle cx="341.8" cy="255.4" r="7.7" fill="#454545"/><text x="342.0" y="259.4" text-anchor="middle" font-family='"Liberation Sans", sans-serif' font-weight="bold" font-size="11" letter-spacing="-1.3" fill="#fff">14</text>
<circle cx="341.6" cy="286" r="8.3" fill="#f2f6fa"/><circle cx="341.6" cy="286" r="7.7" fill="#454545"/><text x="341.6" y="290.1" text-anchor="middle" font-family='"Liberation Sans", sans-serif' font-weight="bold" font-size="11.5" fill="#fff">5</text>
<circle cx="341.6" cy="317" r="8.3" fill="#f2f6fa"/><circle cx="341.6" cy="317" r="7.7" fill="#454545"/><text x="341.6" y="321.1" text-anchor="middle" font-family='"Liberation Sans", sans-serif' font-weight="bold" font-size="11.5" fill="#fff">7</text>
<circle cx="341.6" cy="336.8" r="8.3" fill="#f2f6fa"/><circle cx="341.6" cy="336.8" r="7.7" fill="#454545"/><text x="341.6" y="340.9" text-anchor="middle" font-family='"Liberation Sans", sans-serif' font-weight="bold" font-size="11.5" fill="#fff">8</text>
<circle cx="341.2" cy="478.5" r="8.3" fill="#f2f6fa"/><circle cx="341.2" cy="478.5" r="7.7" fill="#454545"/><text x="341.2" y="482.6" text-anchor="middle" font-family='"Liberation Sans", sans-serif' font-weight="bold" font-size="11.5" fill="#fff">9</text>
<circle cx="479.4" cy="417.3" r="8.3" fill="#f2f6fa"/><circle cx="479.4" cy="417.3" r="7.7" fill="#454545"/><text x="479.6" y="421.3" text-anchor="middle" font-family='"Liberation Sans", sans-serif' font-weight="bold" font-size="11" letter-spacing="-1.3" fill="#fff">10</text>
<circle cx="594" cy="416.8" r="8.3" fill="#f2f6fa"/><circle cx="594" cy="416.8" r="7.7" fill="#454545"/><text x="594.2" y="420.8" text-anchor="middle" font-family='"Liberation Sans", sans-serif' font-weight="bold" font-size="11" letter-spacing="-1.3" fill="#fff">11</text>
<circle cx="707" cy="416.8" r="8.3" fill="#f2f6fa"/><circle cx="707" cy="416.8" r="7.7" fill="#454545"/><text x="707.2" y="420.8" text-anchor="middle" font-family='"Liberation Sans", sans-serif' font-weight="bold" font-size="11" letter-spacing="-1.3" fill="#fff">12</text>
<circle cx="245" cy="802.5" r="8.3" fill="#f2f6fa"/><circle cx="245" cy="802.5" r="7.7" fill="#454545"/><text x="245" y="806.6" text-anchor="middle" font-family='"Liberation Sans", sans-serif' font-weight="bold" font-size="11.5" fill="#fff">8</text>
<circle cx="471.7" cy="746" r="8.3" fill="#f2f6fa"/><circle cx="471.7" cy="746" r="7.7" fill="#454545"/><text x="471.9" y="750.0" text-anchor="middle" font-family='"Liberation Sans", sans-serif' font-weight="bold" font-size="11" letter-spacing="-1.3" fill="#fff">14</text>
<circle cx="471.7" cy="818.2" r="8.3" fill="#f2f6fa"/><circle cx="471.7" cy="818.2" r="7.7" fill="#454545"/><text x="471.7" y="822.3" text-anchor="middle" font-family='"Liberation Sans", sans-serif' font-weight="bold" font-size="11.5" fill="#fff">8</text>
<circle cx="723.7" cy="580.8" r="8.3" fill="#f2f6fa"/><circle cx="723.7" cy="580.8" r="7.7" fill="#454545"/><text x="723.9" y="584.8" text-anchor="middle" font-family='"Liberation Sans", sans-serif' font-weight="bold" font-size="11" letter-spacing="-1.3" fill="#fff">15</text>
<circle cx="723.7" cy="739.3" r="8.3" fill="#f2f6fa"/><circle cx="723.7" cy="739.3" r="7.7" fill="#454545"/><text x="723.9" y="743.3" text-anchor="middle" font-family='"Liberation Sans", sans-serif' font-weight="bold" font-size="11" letter-spacing="-1.3" fill="#fff">14</text>
<circle cx="723.7" cy="799" r="8.3" fill="#f2f6fa"/><circle cx="723.7" cy="799" r="7.7" fill="#454545"/><text x="723.7" y="803.1" text-anchor="middle" font-family='"Liberation Sans", sans-serif' font-weight="bold" font-size="11.5" fill="#fff">8</text>
<circle cx="120.5" cy="206" r="8.3" fill="#f2f6fa"/><circle cx="120.5" cy="206" r="7.7" fill="#454545"/><text x="120.7" y="210.0" text-anchor="middle" font-family='"Liberation Sans", sans-serif' font-weight="bold" font-size="11" letter-spacing="-1.3" fill="#fff">13</text></svg>
<div class="li" style="left:447.5px;top:30.1px">1. Белый внешний корпус</div>
<div class="li" style="left:447.5px;top:45.3px">2. Высокая эффективность теплоизоляции,</div>
<div class="li" style="left:464px;top:60.5px">экологически чистый жесткий PU,</div>
<div class="li" style="left:464px;top:75.7px">с толщиной 32 mm</div>
<div class="li" style="left:447.5px;top:90.9px">3. Емкость для воды: низкоуглеродистая сталь,</div>
<div class="li" style="left:458.5px;top:106.1px">с толщиной 2,5 mm</div>
<div class="li" style="left:447.5px;top:121.2px">4. Титановая эмаль (DIN 4753-3)</div>
<div class="li" style="left:447.5px;top:136.4px">5. Магниевый анод</div>
<div class="li" style="left:447.5px;top:151.6px">6. Нержавеющие трубы для горячей воды</div>
<div class="li" style="left:447.5px;top:166.8px">7. Трубка подачи</div>
<div class="li" style="left:447.5px;top:182.0px">8. Электрический нагревательный элемент*</div>
<div class="li" style="left:447.5px;top:197.2px">9. Кнопка включения и выключения</div>
<div class="li" style="left:458.5px;top:212.4px">при наличии ТЭНа</div>
<div class="li" style="left:447.5px;top:227.6px">10. Термометр</div>
<div class="li" style="left:447.5px;top:242.8px">11. Двойная термическая защита</div>
<div class="li" style="left:447.5px;top:257.9px">12. Предохранительный клапан, 8 bar</div>
<div class="li" style="left:447.5px;top:273.1px">13. Водяная рубашка</div>
<div class="li" style="left:447.5px;top:288.3px">14. Нижний теплообменник</div>
<div class="li" style="left:447.5px;top:303.5px">15. Верхний теплообменник</div>
<div class="fn" style="left:465px;top:334px">*в моделях BB-N S1 - опционально</div>
<div class="lbl" style="left:138.4px;top:480px">BB S1 M</div>
<div class="kt" style="left:79.6px;top:523px">Комплект: ТЭН, термостат, крышка</div>
<div class="kt" style="left:79.6px;top:541.5px">(поставляется отдельно)</div>
<div class="lbl" style="left:111px;top:942px">BB EL</div>
<div class="lbl" style="left:344.6px;top:952px">BB-N S1</div>
<div class="lbl" style="left:578px;top:956px">BB S2</div>
</body></html>
